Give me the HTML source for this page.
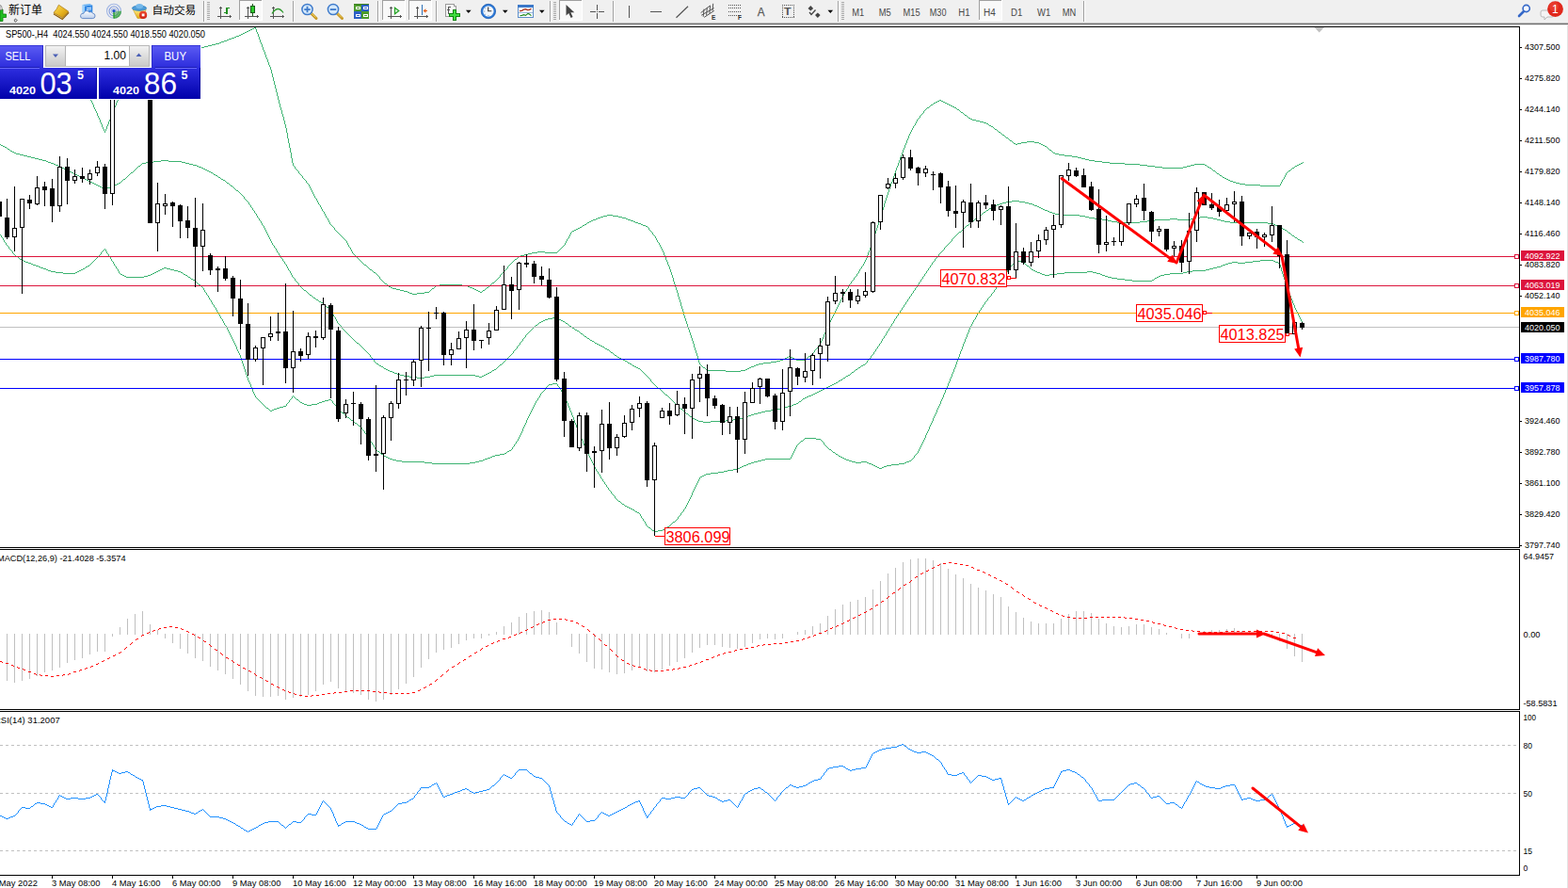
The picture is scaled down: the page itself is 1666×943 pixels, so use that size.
<!DOCTYPE html>
<html><head><meta charset="utf-8"><title>SP500-,H4</title>
<style>
html,body{margin:0;padding:0;background:#fff;}
body{width:1666px;height:943px;overflow:hidden;font-family:"Liberation Sans",sans-serif;}
svg{display:block;position:absolute;left:0;top:0;}
svg text{font-family:"Liberation Sans",sans-serif;}
</style></head><body>
<svg width="1666" height="943" viewBox="0 0 1666 943">
<g shape-rendering="crispEdges">
<rect x="0" y="28" width="1615" height="1" fill="#000"/>
<rect x="1614" y="28" width="1" height="902" fill="#000"/>
<rect x="0" y="581" width="1615" height="1" fill="#000"/>
<rect x="0" y="582" width="1666" height="1" fill="#fff"/>
<rect x="0" y="583" width="1615" height="1" fill="#000"/>
<rect x="0" y="753" width="1615" height="1" fill="#000"/>
<rect x="0" y="754" width="1666" height="1" fill="#fff"/>
<rect x="0" y="755" width="1615" height="1" fill="#000"/>
<rect x="0" y="929" width="1615" height="1" fill="#000"/>
</g>
<clipPath id="cm"><rect x="0" y="29" width="1614" height="552"/></clipPath>
<g clip-path="url(#cm)">
<path d="M270 29h2v1h-2zM268 30h2v1h-2zM266 31h2v1h-2zM264 32h2v1h-2zM262 33h2v1h-2zM260 34h2v1h-2zM258 35h2v1h-2zM256 36h2v1h-2zM254 37h2v1h-2zM251 38h3v1h-3zM249 39h2v1h-2zM246 40h3v1h-3zM243 41h3v1h-3zM241 42h2v1h-2zM238 43h3v1h-3zM235 44h3v1h-3zM233 45h2v1h-2zM229 46h4v1h-4zM225 47h4v1h-4zM221 48h4v1h-4zM217 49h4v1h-4zM214 50h3v1h-3zM998 106h2v1h-2zM996 107h2v1h-2zM1000 107h2v1h-2zM994 108h2v1h-2zM1002 108h2v1h-2zM992 109h2v1h-2zM1004 109h2v1h-2zM1006 110h2v1h-2zM989 111h2v1h-2zM1008 111h2v1h-2zM1010 112h2v1h-2zM1012 113h2v1h-2zM985 114h2v1h-2zM1014 114h2v1h-2zM1017 116h2v1h-2zM1021 119h2v1h-2zM1025 122h2v1h-2zM1029 125h2v1h-2zM1031 126h2v1h-2zM1033 127h4v1h-4zM1037 128h4v1h-4zM1041 129h4v1h-4zM1045 130h3v1h-3zM1048 131h2v1h-2zM1051 133h2v1h-2zM1053 134h2v1h-2zM1057 137h2v1h-2zM1061 140h2v1h-2zM1065 143h2v1h-2zM1069 146h2v1h-2zM1073 149h2v1h-2zM1091 150h8v1h-8zM1085 151h6v1h-6zM1099 151h5v1h-5zM1077 152h2v1h-2zM1081 152h4v1h-4zM1104 152h2v1h-2zM1079 153h2v1h-2zM1106 153h2v1h-2zM1 154h2v1h-2zM1108 154h2v1h-2zM3 155h2v1h-2zM1110 155h2v1h-2zM5 156h2v1h-2zM8 158h2v1h-2zM1115 159h2v1h-2zM11 160h2v1h-2zM13 161h2v1h-2zM15 162h2v1h-2zM1119 162h2v1h-2zM17 163h4v1h-4zM1121 163h4v1h-4zM21 164h4v1h-4zM1125 164h6v1h-6zM25 165h4v1h-4zM1131 165h8v1h-8zM29 166h4v1h-4zM1139 166h6v1h-6zM33 167h4v1h-4zM1145 167h4v1h-4zM37 168h4v1h-4zM1149 168h4v1h-4zM41 169h4v1h-4zM1153 169h4v1h-4zM45 170h4v1h-4zM171 170h8v1h-8zM1157 170h6v1h-6zM49 171h2v1h-2zM163 171h8v1h-8zM179 171h14v1h-14zM1163 171h8v1h-8zM51 172h3v1h-3zM155 172h8v1h-8zM193 172h4v1h-4zM1171 172h8v1h-8zM54 173h3v1h-3zM151 173h4v1h-4zM197 173h4v1h-4zM1179 173h16v1h-16zM1382 173h2v1h-2zM57 174h2v1h-2zM201 174h4v1h-4zM1195 174h16v1h-16zM1269 174h11v1h-11zM1380 174h2v1h-2zM59 175h3v1h-3zM205 175h4v1h-4zM1211 175h8v1h-8zM1265 175h4v1h-4zM1280 175h2v1h-2zM1378 175h2v1h-2zM62 176h2v1h-2zM147 176h2v1h-2zM209 176h2v1h-2zM1219 176h8v1h-8zM1261 176h4v1h-4zM1376 176h2v1h-2zM64 177h2v1h-2zM211 177h3v1h-3zM1227 177h8v1h-8zM1257 177h4v1h-4zM1283 177h2v1h-2zM66 178h2v1h-2zM214 178h2v1h-2zM1235 178h22v1h-22zM1285 178h2v1h-2zM1373 178h2v1h-2zM68 179h2v1h-2zM216 179h2v1h-2zM70 180h2v1h-2zM218 180h2v1h-2zM72 181h2v1h-2zM220 181h2v1h-2zM1289 181h2v1h-2zM1369 181h2v1h-2zM74 182h2v1h-2zM222 182h2v1h-2zM76 183h2v1h-2zM139 183h2v1h-2zM224 183h2v1h-2zM78 184h2v1h-2zM1293 184h2v1h-2zM80 185h2v1h-2zM227 185h2v1h-2zM82 186h2v1h-2zM229 186h2v1h-2zM1296 186h2v1h-2zM84 187h2v1h-2zM86 188h2v1h-2zM232 188h2v1h-2zM1299 188h2v1h-2zM88 189h2v1h-2zM1301 189h2v1h-2zM90 190h2v1h-2zM131 190h2v1h-2zM235 190h2v1h-2zM1303 190h2v1h-2zM92 191h2v1h-2zM237 191h2v1h-2zM1305 191h2v1h-2zM94 192h2v1h-2zM1307 192h3v1h-3zM96 193h2v1h-2zM1310 193h3v1h-3zM98 194h2v1h-2zM126 194h2v1h-2zM241 194h2v1h-2zM1313 194h4v1h-4zM100 195h2v1h-2zM124 195h2v1h-2zM1317 195h6v1h-6zM102 196h2v1h-2zM122 196h2v1h-2zM1323 196h16v1h-16zM104 197h2v1h-2zM120 197h2v1h-2zM245 197h2v1h-2zM1339 197h21v1h-21zM106 198h2v1h-2zM117 198h3v1h-3zM108 199h2v1h-2zM113 199h4v1h-4zM110 200h3v1h-3zM251 202h2v1h-2zM1075 213h8v1h-8zM1069 214h6v1h-6zM1083 214h6v1h-6zM1065 215h4v1h-4zM1089 215h4v1h-4zM1062 216h3v1h-3zM1093 216h4v1h-4zM1059 217h3v1h-3zM1097 217h2v1h-2zM1057 218h2v1h-2zM1099 218h3v1h-3zM1055 219h2v1h-2zM1102 219h2v1h-2zM1053 220h2v1h-2zM1104 220h2v1h-2zM1051 221h2v1h-2zM1106 221h2v1h-2zM1108 222h2v1h-2zM1048 223h2v1h-2zM1110 223h3v1h-3zM1113 224h2v1h-2zM1045 225h2v1h-2zM1115 225h3v1h-3zM1118 226h3v1h-3zM1121 227h4v1h-4zM645 228h6v1h-6zM1041 228h2v1h-2zM1125 228h22v1h-22zM641 229h4v1h-4zM651 229h6v1h-6zM1147 229h6v1h-6zM638 230h3v1h-3zM657 230h4v1h-4zM1153 230h4v1h-4zM1275 230h8v1h-8zM635 231h3v1h-3zM661 231h4v1h-4zM1037 231h2v1h-2zM1157 231h6v1h-6zM1269 231h6v1h-6zM1283 231h6v1h-6zM633 232h2v1h-2zM665 232h2v1h-2zM1163 232h8v1h-8zM1243 232h8v1h-8zM1265 232h4v1h-4zM1289 232h4v1h-4zM630 233h3v1h-3zM667 233h3v1h-3zM1171 233h6v1h-6zM1227 233h16v1h-16zM1251 233h14v1h-14zM1293 233h4v1h-4zM628 234h2v1h-2zM670 234h3v1h-3zM1033 234h2v1h-2zM1177 234h4v1h-4zM1219 234h8v1h-8zM1297 234h4v1h-4zM626 235h2v1h-2zM673 235h2v1h-2zM1181 235h6v1h-6zM1211 235h8v1h-8zM1301 235h6v1h-6zM624 236h2v1h-2zM675 236h3v1h-3zM1187 236h24v1h-24zM1307 236h40v1h-40zM678 237h3v1h-3zM1347 237h6v1h-6zM621 238h2v1h-2zM681 238h2v1h-2zM1353 238h2v1h-2zM619 239h2v1h-2zM683 239h3v1h-3zM1027 239h2v1h-2zM1355 239h3v1h-3zM686 240h2v1h-2zM1358 240h2v1h-2zM616 241h2v1h-2zM1360 241h2v1h-2zM614 242h2v1h-2zM612 243h2v1h-2zM1363 243h2v1h-2zM610 244h2v1h-2zM1365 244h2v1h-2zM608 245h2v1h-2zM1019 246h2v1h-2zM1369 247h2v1h-2zM1373 250h2v1h-2zM1376 252h2v1h-2zM1379 254h2v1h-2zM1381 255h2v1h-2zM571 267h8v1h-8zM565 268h6v1h-6zM579 268h13v1h-13zM561 269h4v1h-4zM557 270h4v1h-4zM553 271h4v1h-4zM17 272h2v1h-2zM551 272h2v1h-2zM21 275h2v1h-2zM547 275h2v1h-2zM23 276h2v1h-2zM1079 276h2v1h-2zM1339 276h14v1h-14zM25 277h2v1h-2zM1081 277h4v1h-4zM1331 277h8v1h-8zM1353 277h2v1h-2zM27 278h3v1h-3zM1085 278h3v1h-3zM1309 278h6v1h-6zM1323 278h8v1h-8zM1355 278h3v1h-3zM30 279h3v1h-3zM1305 279h4v1h-4zM1315 279h8v1h-8zM1358 279h2v1h-2zM33 280h2v1h-2zM1302 280h3v1h-3zM35 281h3v1h-3zM387 281h2v1h-2zM1299 281h3v1h-3zM38 282h3v1h-3zM93 282h2v1h-2zM1091 282h2v1h-2zM1297 282h2v1h-2zM41 283h2v1h-2zM91 283h2v1h-2zM1293 283h4v1h-4zM43 284h3v1h-3zM174 284h3v1h-3zM1289 284h4v1h-4zM46 285h3v1h-3zM88 285h2v1h-2zM172 285h2v1h-2zM177 285h4v1h-4zM1285 285h4v1h-4zM49 286h2v1h-2zM86 286h2v1h-2zM170 286h2v1h-2zM181 286h4v1h-4zM393 286h2v1h-2zM1096 286h2v1h-2zM1281 286h4v1h-4zM51 287h3v1h-3zM84 287h2v1h-2zM168 287h2v1h-2zM185 287h4v1h-4zM1098 287h2v1h-2zM1267 287h14v1h-14zM54 288h5v1h-5zM82 288h2v1h-2zM166 288h2v1h-2zM189 288h3v1h-3zM1100 288h2v1h-2zM1155 288h6v1h-6zM1261 288h6v1h-6zM59 289h8v1h-8zM80 289h2v1h-2zM164 289h2v1h-2zM192 289h2v1h-2zM397 289h2v1h-2zM1102 289h3v1h-3zM1131 289h24v1h-24zM1161 289h4v1h-4zM1257 289h4v1h-4zM67 290h13v1h-13zM162 290h2v1h-2zM1105 290h2v1h-2zM1123 290h8v1h-8zM1165 290h4v1h-4zM1243 290h14v1h-14zM128 291h2v1h-2zM160 291h2v1h-2zM195 291h2v1h-2zM1107 291h3v1h-3zM1115 291h8v1h-8zM1169 291h2v1h-2zM1237 291h6v1h-6zM130 292h2v1h-2zM157 292h3v1h-3zM197 292h2v1h-2zM1110 292h5v1h-5zM1171 292h3v1h-3zM1233 292h4v1h-4zM132 293h2v1h-2zM153 293h4v1h-4zM1174 293h3v1h-3zM1231 293h2v1h-2zM134 294h19v1h-19zM200 294h2v1h-2zM1177 294h4v1h-4zM1229 294h2v1h-2zM1181 295h6v1h-6zM1227 295h2v1h-2zM203 296h2v1h-2zM1187 296h8v1h-8zM205 297h2v1h-2zM1195 297h8v1h-8zM1224 297h2v1h-2zM1203 298h21v1h-21zM523 300h2v1h-2zM409 301h2v1h-2zM211 302h2v1h-2zM467 302h24v1h-24zM463 303h4v1h-4zM491 303h6v1h-6zM413 304h2v1h-2zM497 304h2v1h-2zM415 305h2v1h-2zM499 305h3v1h-3zM517 305h2v1h-2zM417 306h4v1h-4zM459 306h2v1h-2zM502 306h2v1h-2zM421 307h4v1h-4zM504 307h2v1h-2zM323 308h2v1h-2zM425 308h4v1h-4zM506 308h2v1h-2zM513 308h2v1h-2zM429 309h4v1h-4zM508 309h2v1h-2zM433 310h2v1h-2zM451 310h5v1h-5zM510 310h2v1h-2zM435 311h3v1h-3zM443 311h8v1h-8zM438 312h5v1h-5zM329 313h2v1h-2zM333 316h2v1h-2zM336 318h2v1h-2zM339 320h2v1h-2zM341 321h2v1h-2zM347 326h2v1h-2zM587 337h5v1h-5zM582 338h5v1h-5zM592 338h2v1h-2zM579 339h3v1h-3zM594 339h2v1h-2zM577 340h2v1h-2zM596 340h2v1h-2zM575 341h2v1h-2zM598 341h2v1h-2zM573 342h2v1h-2zM601 343h2v1h-2zM569 345h2v1h-2zM605 346h2v1h-2zM608 348h2v1h-2zM611 350h2v1h-2zM613 351h2v1h-2zM617 354h2v1h-2zM621 357h2v1h-2zM624 359h2v1h-2zM627 361h2v1h-2zM629 362h2v1h-2zM379 364h2v1h-2zM632 364h2v1h-2zM634 365h2v1h-2zM636 366h2v1h-2zM638 367h2v1h-2zM640 368h2v1h-2zM643 370h2v1h-2zM645 371h2v1h-2zM649 374h2v1h-2zM653 377h2v1h-2zM838 378h2v1h-2zM859 378h2v1h-2zM656 379h2v1h-2zM836 379h2v1h-2zM840 379h2v1h-2zM658 380h2v1h-2zM834 380h2v1h-2zM842 380h2v1h-2zM660 381h2v1h-2zM832 381h2v1h-2zM844 381h2v1h-2zM662 382h2v1h-2zM829 382h3v1h-3zM846 382h10v1h-10zM664 383h2v1h-2zM825 383h4v1h-4zM819 384h6v1h-6zM667 385h2v1h-2zM811 385h8v1h-8zM400 386h2v1h-2zM669 386h2v1h-2zM806 386h5v1h-5zM531 387h2v1h-2zM803 387h3v1h-3zM917 387h2v1h-2zM403 388h2v1h-2zM672 388h2v1h-2zM801 388h2v1h-2zM915 388h2v1h-2zM405 389h2v1h-2zM674 389h2v1h-2zM798 389h3v1h-3zM676 390h2v1h-2zM747 390h2v1h-2zM796 390h2v1h-2zM912 390h2v1h-2zM408 391h2v1h-2zM678 391h2v1h-2zM794 391h2v1h-2zM410 392h2v1h-2zM525 392h2v1h-2zM792 392h2v1h-2zM909 392h2v1h-2zM412 393h2v1h-2zM523 393h2v1h-2zM751 393h20v1h-20zM787 393h5v1h-5zM414 394h3v1h-3zM771 394h16v1h-16zM417 395h2v1h-2zM520 395h2v1h-2zM905 395h2v1h-2zM419 396h3v1h-3zM518 396h2v1h-2zM422 397h3v1h-3zM516 397h2v1h-2zM425 398h4v1h-4zM461 398h44v1h-44zM514 398h2v1h-2zM901 398h2v1h-2zM429 399h6v1h-6zM457 399h4v1h-4zM505 399h4v1h-4zM512 399h2v1h-2zM899 399h2v1h-2zM435 400h8v1h-8zM451 400h6v1h-6zM509 400h3v1h-3zM443 401h8v1h-8zM896 401h2v1h-2zM893 403h2v1h-2zM891 404h2v1h-2zM888 406h2v1h-2zM587 407h5v1h-5zM886 407h2v1h-2zM583 408h4v1h-4zM884 408h2v1h-2zM882 409h2v1h-2zM880 410h2v1h-2zM878 411h2v1h-2zM699 412h2v1h-2zM876 412h2v1h-2zM874 413h2v1h-2zM872 414h2v1h-2zM870 415h2v1h-2zM868 416h2v1h-2zM866 417h2v1h-2zM864 418h2v1h-2zM707 419h2v1h-2zM862 419h2v1h-2zM859 420h3v1h-3zM857 421h2v1h-2zM855 422h2v1h-2zM853 423h2v1h-2zM315 424h2v1h-2zM349 424h3v1h-3zM345 425h4v1h-4zM342 426h3v1h-3zM849 426h2v1h-2zM319 427h2v1h-2zM339 427h3v1h-3zM321 428h2v1h-2zM337 428h2v1h-2zM846 428h2v1h-2zM323 429h3v1h-3zM331 429h6v1h-6zM843 429h3v1h-3zM326 430h5v1h-5zM841 430h2v1h-2zM301 431h3v1h-3zM837 431h4v1h-4zM297 432h4v1h-4zM833 432h4v1h-4zM283 433h2v1h-2zM294 433h3v1h-3zM829 433h4v1h-4zM291 434h3v1h-3zM723 434h2v1h-2zM825 434h4v1h-4zM289 435h2v1h-2zM819 435h6v1h-6zM287 436h2v1h-2zM813 436h6v1h-6zM809 437h4v1h-4zM363 438h2v1h-2zM805 438h4v1h-4zM729 439h2v1h-2zM801 439h4v1h-4zM798 440h3v1h-3zM795 441h3v1h-3zM733 442h2v1h-2zM793 442h2v1h-2zM369 443h2v1h-2zM789 443h4v1h-4zM736 444h2v1h-2zM785 444h4v1h-4zM738 445h2v1h-2zM779 445h6v1h-6zM373 446h2v1h-2zM740 446h2v1h-2zM771 446h8v1h-8zM742 447h5v1h-5zM755 447h16v1h-16zM747 448h8v1h-8zM377 449h2v1h-2zM381 452h2v1h-2zM855 465h12v1h-12zM867 466h5v1h-5zM851 468h2v1h-2zM881 477h2v1h-2zM541 478h2v1h-2zM401 479h2v1h-2zM539 479h2v1h-2zM885 480h2v1h-2zM536 481h2v1h-2zM405 482h2v1h-2zM531 482h5v1h-5zM888 482h2v1h-2zM526 483h5v1h-5zM408 484h2v1h-2zM523 484h3v1h-3zM891 484h2v1h-2zM410 485h2v1h-2zM521 485h2v1h-2zM893 485h2v1h-2zM412 486h2v1h-2zM518 486h3v1h-3zM895 486h2v1h-2zM414 487h3v1h-3zM515 487h3v1h-3zM813 487h27v1h-27zM897 487h2v1h-2zM417 488h4v1h-4zM513 488h2v1h-2zM809 488h4v1h-4zM899 488h3v1h-3zM421 489h6v1h-6zM509 489h4v1h-4zM805 489h4v1h-4zM902 489h3v1h-3zM966 489h2v1h-2zM427 490h24v1h-24zM505 490h4v1h-4zM801 490h4v1h-4zM905 490h4v1h-4zM915 490h6v1h-6zM963 490h3v1h-3zM451 491h8v1h-8zM499 491h6v1h-6zM798 491h3v1h-3zM909 491h6v1h-6zM921 491h2v1h-2zM961 491h2v1h-2zM459 492h40v1h-40zM795 492h3v1h-3zM923 492h3v1h-3zM955 492h6v1h-6zM793 493h2v1h-2zM926 493h2v1h-2zM947 493h8v1h-8zM790 494h3v1h-3zM928 494h2v1h-2zM942 494h5v1h-5zM788 495h2v1h-2zM930 495h2v1h-2zM939 495h3v1h-3zM786 496h2v1h-2zM932 496h2v1h-2zM937 496h2v1h-2zM784 497h2v1h-2zM934 497h3v1h-3zM779 498h5v1h-5zM773 499h6v1h-6zM769 500h4v1h-4zM763 501h6v1h-6zM755 502h8v1h-8zM750 503h5v1h-5zM748 504h2v1h-2zM746 505h2v1h-2zM744 506h2v1h-2zM657 532h2v1h-2zM661 535h2v1h-2zM664 537h2v1h-2zM666 538h2v1h-2zM668 539h2v1h-2zM670 540h2v1h-2zM672 541h2v1h-2zM675 543h2v1h-2zM677 544h2v1h-2zM715 554h2v1h-2zM709 559h2v1h-2zM689 560h2v1h-2zM707 560h2v1h-2zM704 562h2v1h-2zM693 563h2v1h-2zM699 563h5v1h-5zM695 564h4v1h-4zM0 153h1v1h-1zM0 249h1v1h-1zM1 250h1v2h-1zM2 252h1v1h-1zM3 253h1v2h-1zM4 255h1v2h-1zM5 257h1v1h-1zM6 258h1v2h-1zM7 157h1v1h-1zM7 260h1v1h-1zM8 261h1v1h-1zM9 262h1v2h-1zM10 159h1v1h-1zM10 264h1v1h-1zM11 265h1v1h-1zM12 266h1v1h-1zM13 267h1v2h-1zM14 269h1v1h-1zM15 270h1v1h-1zM16 271h1v1h-1zM19 273h1v1h-1zM20 274h1v1h-1zM90 92h1v2h-1zM90 284h1v1h-1zM91 94h1v2h-1zM92 96h1v2h-1zM93 98h1v2h-1zM94 100h1v2h-1zM95 102h1v3h-1zM95 281h1v1h-1zM96 105h1v2h-1zM96 280h1v1h-1zM97 107h1v2h-1zM97 279h1v1h-1zM98 109h1v2h-1zM98 278h1v1h-1zM99 111h1v3h-1zM99 277h1v1h-1zM100 114h1v2h-1zM100 276h1v1h-1zM101 116h1v2h-1zM101 275h1v1h-1zM102 118h1v2h-1zM102 274h1v1h-1zM103 120h1v3h-1zM103 273h1v1h-1zM104 123h1v2h-1zM104 272h1v1h-1zM105 125h1v2h-1zM105 271h1v1h-1zM106 127h1v3h-1zM106 270h1v1h-1zM107 130h1v2h-1zM107 268h1v2h-1zM108 132h1v3h-1zM108 267h1v1h-1zM109 135h1v2h-1zM109 266h1v1h-1zM110 137h1v2h-1zM110 265h1v1h-1zM111 139h1v2h-1zM111 264h1v1h-1zM112 137h1v2h-1zM112 265h1v2h-1zM113 134h1v3h-1zM113 267h1v2h-1zM114 132h1v2h-1zM114 269h1v1h-1zM115 129h1v3h-1zM115 270h1v2h-1zM116 127h1v2h-1zM116 272h1v1h-1zM117 124h1v3h-1zM117 273h1v2h-1zM118 122h1v2h-1zM118 275h1v2h-1zM119 119h1v3h-1zM119 277h1v1h-1zM120 117h1v2h-1zM120 278h1v2h-1zM121 114h1v3h-1zM121 280h1v2h-1zM122 112h1v2h-1zM122 282h1v1h-1zM123 109h1v3h-1zM123 283h1v2h-1zM124 107h1v2h-1zM124 285h1v1h-1zM125 104h1v3h-1zM125 286h1v2h-1zM126 102h1v2h-1zM126 288h1v2h-1zM127 100h1v2h-1zM127 290h1v1h-1zM128 98h1v2h-1zM128 193h1v1h-1zM129 192h1v1h-1zM130 191h1v1h-1zM133 189h1v1h-1zM134 188h1v1h-1zM135 187h1v1h-1zM136 186h1v1h-1zM137 185h1v1h-1zM138 184h1v1h-1zM141 182h1v1h-1zM142 181h1v1h-1zM143 180h1v1h-1zM144 179h1v1h-1zM145 178h1v1h-1zM146 177h1v1h-1zM149 175h1v1h-1zM150 174h1v1h-1zM194 290h1v1h-1zM199 293h1v1h-1zM202 295h1v1h-1zM207 298h1v1h-1zM208 299h1v1h-1zM209 300h1v1h-1zM210 301h1v1h-1zM213 51h1v1h-1zM213 303h1v1h-1zM214 304h1v1h-1zM215 305h1v1h-1zM216 306h1v2h-1zM217 308h1v2h-1zM218 310h1v1h-1zM219 311h1v2h-1zM220 313h1v1h-1zM221 314h1v2h-1zM222 316h1v2h-1zM223 318h1v1h-1zM224 319h1v2h-1zM225 321h1v2h-1zM226 184h1v1h-1zM226 323h1v1h-1zM227 324h1v2h-1zM228 326h1v1h-1zM229 327h1v2h-1zM230 329h1v2h-1zM231 187h1v1h-1zM231 331h1v1h-1zM232 332h1v2h-1zM233 334h1v2h-1zM234 189h1v1h-1zM234 336h1v2h-1zM235 338h1v1h-1zM236 339h1v2h-1zM237 341h1v2h-1zM238 343h1v2h-1zM239 192h1v1h-1zM239 345h1v1h-1zM240 193h1v1h-1zM240 346h1v2h-1zM241 348h1v2h-1zM242 350h1v2h-1zM243 195h1v1h-1zM243 352h1v2h-1zM244 196h1v1h-1zM244 354h1v2h-1zM245 356h1v2h-1zM246 358h1v2h-1zM247 198h1v1h-1zM247 360h1v2h-1zM248 199h1v1h-1zM248 362h1v2h-1zM249 200h1v1h-1zM249 364h1v2h-1zM250 201h1v1h-1zM250 366h1v2h-1zM251 368h1v3h-1zM252 371h1v2h-1zM253 203h1v1h-1zM253 373h1v2h-1zM254 204h1v1h-1zM254 375h1v2h-1zM255 205h1v1h-1zM255 377h1v3h-1zM256 206h1v1h-1zM256 380h1v3h-1zM257 207h1v1h-1zM257 383h1v3h-1zM258 208h1v1h-1zM258 386h1v3h-1zM259 209h1v2h-1zM259 389h1v3h-1zM260 211h1v1h-1zM260 392h1v3h-1zM261 212h1v1h-1zM261 395h1v3h-1zM262 213h1v1h-1zM262 398h1v3h-1zM263 214h1v1h-1zM263 401h1v3h-1zM264 215h1v2h-1zM264 404h1v2h-1zM265 217h1v1h-1zM265 406h1v2h-1zM266 218h1v2h-1zM266 408h1v3h-1zM267 220h1v1h-1zM267 411h1v2h-1zM268 221h1v2h-1zM268 413h1v3h-1zM269 223h1v1h-1zM269 416h1v2h-1zM270 224h1v2h-1zM270 418h1v2h-1zM271 30h1v1h-1zM271 226h1v1h-1zM271 420h1v2h-1zM272 31h1v3h-1zM272 227h1v2h-1zM272 422h1v1h-1zM273 34h1v2h-1zM273 229h1v2h-1zM273 423h1v1h-1zM274 36h1v3h-1zM274 231h1v1h-1zM274 424h1v1h-1zM275 39h1v3h-1zM275 232h1v2h-1zM275 425h1v1h-1zM276 42h1v3h-1zM276 234h1v1h-1zM276 426h1v1h-1zM277 45h1v2h-1zM277 235h1v2h-1zM277 427h1v1h-1zM278 47h1v3h-1zM278 237h1v2h-1zM278 428h1v1h-1zM279 50h1v3h-1zM279 239h1v1h-1zM279 429h1v1h-1zM280 53h1v2h-1zM280 240h1v2h-1zM280 430h1v1h-1zM281 55h1v3h-1zM281 242h1v2h-1zM281 431h1v1h-1zM282 58h1v3h-1zM282 244h1v2h-1zM282 432h1v1h-1zM283 61h1v2h-1zM283 246h1v2h-1zM284 63h1v3h-1zM284 248h1v2h-1zM285 66h1v3h-1zM285 250h1v2h-1zM285 434h1v1h-1zM286 69h1v2h-1zM286 252h1v2h-1zM286 435h1v1h-1zM287 71h1v3h-1zM287 254h1v2h-1zM288 74h1v4h-1zM288 256h1v2h-1zM289 78h1v4h-1zM289 258h1v2h-1zM290 82h1v4h-1zM290 260h1v1h-1zM291 86h1v4h-1zM291 261h1v2h-1zM292 90h1v4h-1zM292 263h1v1h-1zM293 94h1v4h-1zM293 264h1v2h-1zM294 98h1v4h-1zM294 266h1v2h-1zM295 102h1v4h-1zM295 268h1v1h-1zM296 106h1v4h-1zM296 269h1v2h-1zM297 110h1v4h-1zM297 271h1v1h-1zM298 114h1v3h-1zM298 272h1v2h-1zM299 117h1v4h-1zM299 274h1v1h-1zM300 121h1v3h-1zM300 275h1v2h-1zM301 124h1v4h-1zM301 277h1v1h-1zM302 128h1v4h-1zM302 278h1v2h-1zM303 132h1v4h-1zM303 280h1v1h-1zM304 136h1v5h-1zM304 281h1v2h-1zM304 429h1v2h-1zM305 141h1v6h-1zM305 283h1v2h-1zM305 428h1v1h-1zM306 147h1v5h-1zM306 285h1v2h-1zM306 427h1v1h-1zM307 152h1v5h-1zM307 287h1v1h-1zM307 425h1v2h-1zM308 157h1v5h-1zM308 288h1v2h-1zM308 424h1v1h-1zM309 162h1v6h-1zM309 290h1v2h-1zM309 423h1v1h-1zM310 168h1v5h-1zM310 292h1v2h-1zM310 421h1v2h-1zM311 173h1v3h-1zM311 294h1v1h-1zM311 420h1v1h-1zM312 176h1v1h-1zM312 295h1v1h-1zM312 421h1v1h-1zM313 177h1v2h-1zM313 296h1v2h-1zM313 422h1v1h-1zM314 179h1v1h-1zM314 298h1v1h-1zM314 423h1v1h-1zM315 180h1v1h-1zM315 299h1v1h-1zM316 181h1v1h-1zM316 300h1v1h-1zM317 182h1v2h-1zM317 301h1v2h-1zM317 425h1v1h-1zM318 184h1v1h-1zM318 303h1v1h-1zM318 426h1v1h-1zM319 185h1v1h-1zM319 304h1v1h-1zM320 186h1v1h-1zM320 305h1v1h-1zM321 187h1v2h-1zM321 306h1v1h-1zM322 189h1v1h-1zM322 307h1v1h-1zM323 190h1v1h-1zM324 191h1v1h-1zM325 192h1v2h-1zM325 309h1v1h-1zM326 194h1v1h-1zM326 310h1v1h-1zM327 195h1v1h-1zM327 311h1v1h-1zM328 196h1v2h-1zM328 312h1v1h-1zM329 198h1v2h-1zM330 200h1v2h-1zM331 202h1v2h-1zM331 314h1v1h-1zM332 204h1v2h-1zM332 315h1v1h-1zM333 206h1v2h-1zM334 208h1v2h-1zM335 210h1v1h-1zM335 317h1v1h-1zM336 211h1v2h-1zM337 213h1v2h-1zM338 215h1v2h-1zM338 319h1v1h-1zM339 217h1v1h-1zM340 218h1v2h-1zM341 220h1v2h-1zM342 222h1v2h-1zM343 224h1v1h-1zM343 322h1v1h-1zM344 225h1v2h-1zM344 323h1v1h-1zM345 227h1v2h-1zM345 324h1v1h-1zM346 229h1v2h-1zM346 325h1v1h-1zM347 231h1v1h-1zM348 232h1v2h-1zM349 234h1v2h-1zM349 327h1v1h-1zM350 236h1v2h-1zM350 328h1v1h-1zM351 238h1v1h-1zM351 329h1v1h-1zM352 239h1v1h-1zM352 330h1v2h-1zM352 425h1v1h-1zM353 240h1v1h-1zM353 332h1v2h-1zM353 426h1v2h-1zM354 241h1v1h-1zM354 334h1v2h-1zM354 428h1v1h-1zM355 242h1v2h-1zM355 336h1v1h-1zM355 429h1v1h-1zM356 244h1v1h-1zM356 337h1v2h-1zM356 430h1v1h-1zM357 245h1v1h-1zM357 339h1v2h-1zM357 431h1v2h-1zM358 246h1v1h-1zM358 341h1v2h-1zM358 433h1v1h-1zM359 247h1v1h-1zM359 343h1v1h-1zM359 434h1v1h-1zM360 248h1v1h-1zM360 344h1v1h-1zM360 435h1v1h-1zM361 249h1v1h-1zM361 345h1v1h-1zM361 436h1v1h-1zM362 250h1v1h-1zM362 346h1v1h-1zM362 437h1v1h-1zM363 251h1v1h-1zM363 347h1v2h-1zM364 252h1v1h-1zM364 349h1v1h-1zM365 253h1v1h-1zM365 350h1v1h-1zM365 439h1v1h-1zM366 254h1v1h-1zM366 351h1v1h-1zM366 440h1v1h-1zM367 255h1v1h-1zM367 352h1v1h-1zM367 441h1v1h-1zM368 256h1v2h-1zM368 353h1v1h-1zM368 442h1v1h-1zM369 258h1v2h-1zM369 354h1v1h-1zM370 260h1v2h-1zM370 355h1v1h-1zM371 262h1v1h-1zM371 356h1v1h-1zM371 444h1v1h-1zM372 263h1v2h-1zM372 357h1v1h-1zM372 445h1v1h-1zM373 265h1v2h-1zM373 358h1v1h-1zM374 267h1v2h-1zM374 359h1v1h-1zM375 269h1v1h-1zM375 360h1v1h-1zM375 447h1v1h-1zM376 270h1v1h-1zM376 361h1v1h-1zM376 448h1v1h-1zM377 271h1v1h-1zM377 362h1v1h-1zM378 272h1v1h-1zM378 363h1v1h-1zM379 273h1v1h-1zM379 450h1v1h-1zM380 274h1v1h-1zM380 451h1v1h-1zM381 275h1v1h-1zM381 365h1v1h-1zM382 276h1v1h-1zM382 366h1v1h-1zM383 277h1v1h-1zM383 367h1v1h-1zM383 453h1v1h-1zM384 278h1v1h-1zM384 368h1v1h-1zM384 454h1v2h-1zM385 279h1v1h-1zM385 369h1v1h-1zM385 456h1v1h-1zM386 280h1v1h-1zM386 370h1v1h-1zM386 457h1v1h-1zM387 371h1v1h-1zM387 458h1v2h-1zM388 372h1v1h-1zM388 460h1v1h-1zM389 282h1v1h-1zM389 373h1v1h-1zM389 461h1v1h-1zM390 283h1v1h-1zM390 374h1v1h-1zM390 462h1v2h-1zM391 284h1v1h-1zM391 375h1v1h-1zM391 464h1v1h-1zM392 285h1v1h-1zM392 376h1v1h-1zM392 465h1v2h-1zM393 377h1v2h-1zM393 467h1v2h-1zM394 379h1v1h-1zM394 469h1v1h-1zM395 287h1v1h-1zM395 380h1v1h-1zM395 470h1v2h-1zM396 288h1v1h-1zM396 381h1v1h-1zM396 472h1v1h-1zM397 382h1v2h-1zM397 473h1v2h-1zM398 384h1v1h-1zM398 475h1v2h-1zM399 290h1v1h-1zM399 385h1v1h-1zM399 477h1v1h-1zM400 291h1v1h-1zM400 478h1v1h-1zM401 292h1v1h-1zM402 293h1v1h-1zM402 387h1v1h-1zM403 294h1v2h-1zM403 480h1v1h-1zM404 296h1v1h-1zM404 481h1v1h-1zM405 297h1v1h-1zM406 298h1v1h-1zM407 299h1v1h-1zM407 390h1v1h-1zM407 483h1v1h-1zM408 300h1v1h-1zM411 302h1v1h-1zM412 303h1v1h-1zM456 309h1v1h-1zM457 308h1v1h-1zM458 307h1v1h-1zM461 305h1v1h-1zM462 304h1v1h-1zM512 309h1v1h-1zM515 307h1v1h-1zM516 306h1v1h-1zM519 304h1v1h-1zM520 303h1v1h-1zM521 302h1v1h-1zM522 301h1v1h-1zM522 394h1v1h-1zM525 299h1v1h-1zM526 298h1v1h-1zM527 297h1v1h-1zM527 391h1v1h-1zM528 296h1v1h-1zM528 390h1v1h-1zM529 295h1v1h-1zM529 389h1v1h-1zM530 294h1v1h-1zM530 388h1v1h-1zM531 292h1v2h-1zM532 291h1v1h-1zM533 290h1v1h-1zM533 386h1v1h-1zM534 289h1v1h-1zM534 385h1v1h-1zM535 288h1v1h-1zM535 384h1v1h-1zM536 287h1v1h-1zM536 383h1v1h-1zM537 286h1v1h-1zM537 382h1v1h-1zM538 285h1v1h-1zM538 381h1v1h-1zM538 480h1v1h-1zM539 283h1v2h-1zM539 380h1v1h-1zM540 282h1v1h-1zM540 379h1v1h-1zM541 281h1v1h-1zM541 378h1v1h-1zM542 280h1v1h-1zM542 377h1v1h-1zM543 279h1v1h-1zM543 376h1v1h-1zM543 477h1v1h-1zM544 278h1v1h-1zM544 375h1v1h-1zM544 475h1v2h-1zM545 277h1v1h-1zM545 373h1v2h-1zM545 474h1v1h-1zM546 276h1v1h-1zM546 372h1v1h-1zM546 472h1v2h-1zM547 371h1v1h-1zM547 471h1v1h-1zM548 370h1v1h-1zM548 469h1v2h-1zM549 274h1v1h-1zM549 368h1v2h-1zM549 468h1v1h-1zM550 273h1v1h-1zM550 367h1v1h-1zM550 466h1v2h-1zM551 366h1v1h-1zM551 464h1v2h-1zM552 364h1v2h-1zM552 462h1v2h-1zM553 363h1v1h-1zM553 460h1v2h-1zM554 362h1v1h-1zM554 458h1v2h-1zM555 360h1v2h-1zM555 455h1v3h-1zM556 359h1v1h-1zM556 453h1v2h-1zM557 358h1v1h-1zM557 451h1v2h-1zM558 356h1v2h-1zM558 449h1v2h-1zM559 355h1v1h-1zM559 446h1v3h-1zM560 354h1v1h-1zM560 444h1v2h-1zM561 353h1v1h-1zM561 442h1v2h-1zM562 352h1v1h-1zM562 440h1v2h-1zM563 351h1v1h-1zM563 438h1v2h-1zM564 350h1v1h-1zM564 436h1v2h-1zM565 349h1v1h-1zM565 434h1v2h-1zM566 348h1v1h-1zM566 432h1v2h-1zM567 347h1v1h-1zM567 430h1v2h-1zM568 346h1v1h-1zM568 428h1v2h-1zM569 426h1v2h-1zM570 425h1v1h-1zM571 344h1v1h-1zM571 423h1v2h-1zM572 343h1v1h-1zM572 422h1v1h-1zM573 420h1v2h-1zM574 418h1v2h-1zM575 417h1v1h-1zM576 416h1v1h-1zM577 415h1v1h-1zM578 414h1v1h-1zM579 412h1v2h-1zM580 411h1v1h-1zM581 410h1v1h-1zM582 409h1v1h-1zM592 267h1v1h-1zM592 408h1v2h-1zM593 266h1v1h-1zM593 410h1v1h-1zM594 265h1v1h-1zM594 411h1v2h-1zM595 264h1v1h-1zM595 413h1v1h-1zM596 263h1v1h-1zM596 414h1v2h-1zM597 262h1v1h-1zM597 416h1v1h-1zM598 261h1v1h-1zM598 417h1v2h-1zM599 260h1v1h-1zM599 419h1v2h-1zM600 258h1v2h-1zM600 342h1v1h-1zM600 421h1v2h-1zM601 256h1v2h-1zM601 423h1v3h-1zM602 254h1v2h-1zM602 426h1v2h-1zM603 253h1v1h-1zM603 344h1v1h-1zM603 428h1v3h-1zM604 251h1v2h-1zM604 345h1v1h-1zM604 431h1v2h-1zM605 249h1v2h-1zM605 433h1v3h-1zM606 247h1v2h-1zM606 436h1v2h-1zM607 246h1v1h-1zM607 347h1v1h-1zM607 438h1v3h-1zM608 441h1v2h-1zM609 443h1v3h-1zM610 349h1v1h-1zM610 446h1v3h-1zM611 449h1v2h-1zM612 451h1v3h-1zM613 454h1v3h-1zM614 457h1v2h-1zM615 352h1v1h-1zM615 459h1v3h-1zM616 353h1v1h-1zM616 462h1v2h-1zM617 464h1v2h-1zM618 240h1v1h-1zM618 466h1v2h-1zM619 355h1v1h-1zM619 468h1v3h-1zM620 356h1v1h-1zM620 471h1v2h-1zM621 473h1v2h-1zM622 475h1v2h-1zM623 237h1v1h-1zM623 358h1v1h-1zM623 477h1v3h-1zM624 480h1v2h-1zM625 482h1v2h-1zM626 360h1v1h-1zM626 484h1v2h-1zM627 486h1v2h-1zM628 488h1v2h-1zM629 490h1v2h-1zM630 492h1v2h-1zM631 363h1v1h-1zM631 494h1v2h-1zM632 496h1v2h-1zM633 498h1v2h-1zM634 500h1v1h-1zM635 501h1v2h-1zM636 503h1v1h-1zM637 504h1v2h-1zM638 506h1v2h-1zM639 508h1v1h-1zM640 509h1v2h-1zM641 511h1v1h-1zM642 369h1v1h-1zM642 512h1v2h-1zM643 514h1v1h-1zM644 515h1v2h-1zM645 517h1v1h-1zM646 518h1v2h-1zM647 372h1v1h-1zM647 520h1v1h-1zM648 373h1v1h-1zM648 521h1v1h-1zM649 522h1v2h-1zM650 524h1v1h-1zM651 375h1v1h-1zM651 525h1v1h-1zM652 376h1v1h-1zM652 526h1v1h-1zM653 527h1v2h-1zM654 529h1v1h-1zM655 378h1v1h-1zM655 530h1v1h-1zM656 531h1v1h-1zM659 533h1v1h-1zM660 534h1v1h-1zM663 536h1v1h-1zM666 384h1v1h-1zM671 387h1v1h-1zM674 542h1v1h-1zM679 545h1v1h-1zM680 392h1v1h-1zM680 546h1v2h-1zM681 393h1v1h-1zM681 548h1v2h-1zM682 394h1v1h-1zM682 550h1v1h-1zM683 395h1v1h-1zM683 551h1v2h-1zM684 396h1v1h-1zM684 553h1v1h-1zM685 397h1v1h-1zM685 554h1v2h-1zM686 398h1v1h-1zM686 556h1v2h-1zM687 399h1v1h-1zM687 558h1v1h-1zM688 241h1v1h-1zM688 400h1v1h-1zM688 559h1v1h-1zM689 242h1v2h-1zM689 401h1v1h-1zM690 244h1v1h-1zM690 402h1v1h-1zM691 245h1v1h-1zM691 403h1v2h-1zM691 561h1v1h-1zM692 246h1v1h-1zM692 405h1v1h-1zM692 562h1v1h-1zM693 247h1v2h-1zM693 406h1v1h-1zM694 249h1v1h-1zM694 407h1v1h-1zM695 250h1v1h-1zM695 408h1v1h-1zM696 251h1v2h-1zM696 409h1v1h-1zM697 253h1v2h-1zM697 410h1v1h-1zM698 255h1v2h-1zM698 411h1v1h-1zM699 257h1v1h-1zM700 258h1v2h-1zM701 260h1v2h-1zM701 413h1v1h-1zM702 262h1v2h-1zM702 414h1v1h-1zM703 264h1v2h-1zM703 415h1v1h-1zM704 266h1v2h-1zM704 416h1v1h-1zM705 268h1v3h-1zM705 417h1v1h-1zM706 271h1v2h-1zM706 418h1v1h-1zM706 561h1v1h-1zM707 273h1v3h-1zM708 276h1v2h-1zM709 278h1v3h-1zM709 420h1v1h-1zM710 281h1v2h-1zM710 421h1v1h-1zM711 283h1v3h-1zM711 422h1v1h-1zM711 558h1v1h-1zM712 286h1v3h-1zM712 423h1v1h-1zM712 557h1v1h-1zM713 289h1v3h-1zM713 424h1v1h-1zM713 556h1v1h-1zM714 292h1v3h-1zM714 425h1v1h-1zM714 555h1v1h-1zM715 295h1v4h-1zM715 426h1v1h-1zM716 299h1v3h-1zM716 427h1v1h-1zM717 302h1v3h-1zM717 428h1v1h-1zM717 553h1v1h-1zM718 305h1v3h-1zM718 429h1v1h-1zM718 552h1v1h-1zM719 308h1v3h-1zM719 430h1v1h-1zM719 551h1v1h-1zM720 311h1v4h-1zM720 431h1v1h-1zM720 549h1v2h-1zM721 315h1v3h-1zM721 432h1v1h-1zM721 548h1v1h-1zM722 318h1v3h-1zM722 433h1v1h-1zM722 547h1v1h-1zM723 321h1v4h-1zM723 545h1v2h-1zM724 325h1v3h-1zM724 544h1v1h-1zM725 328h1v3h-1zM725 435h1v1h-1zM725 543h1v1h-1zM726 331h1v4h-1zM726 436h1v1h-1zM726 541h1v2h-1zM727 335h1v3h-1zM727 437h1v1h-1zM727 540h1v1h-1zM728 338h1v3h-1zM728 438h1v1h-1zM728 538h1v2h-1zM729 341h1v3h-1zM729 536h1v2h-1zM730 344h1v3h-1zM730 534h1v2h-1zM731 347h1v3h-1zM731 440h1v1h-1zM731 532h1v2h-1zM732 350h1v3h-1zM732 441h1v1h-1zM732 530h1v2h-1zM733 353h1v3h-1zM733 528h1v2h-1zM734 356h1v3h-1zM734 526h1v2h-1zM735 359h1v3h-1zM735 443h1v1h-1zM735 523h1v3h-1zM736 362h1v3h-1zM736 521h1v2h-1zM737 365h1v4h-1zM737 519h1v2h-1zM738 369h1v3h-1zM738 517h1v2h-1zM739 372h1v3h-1zM739 515h1v2h-1zM740 375h1v3h-1zM740 513h1v2h-1zM741 378h1v4h-1zM741 511h1v2h-1zM742 382h1v3h-1zM742 509h1v2h-1zM743 385h1v2h-1zM743 507h1v2h-1zM744 387h1v1h-1zM745 388h1v1h-1zM746 389h1v1h-1zM749 391h1v1h-1zM750 392h1v1h-1zM840 485h1v2h-1zM841 483h1v2h-1zM842 481h1v2h-1zM843 479h1v2h-1zM844 477h1v2h-1zM845 475h1v2h-1zM846 473h1v2h-1zM847 472h1v1h-1zM848 427h1v1h-1zM848 471h1v1h-1zM849 470h1v1h-1zM850 469h1v1h-1zM851 425h1v1h-1zM852 424h1v1h-1zM853 467h1v1h-1zM854 466h1v1h-1zM856 381h1v1h-1zM857 380h1v1h-1zM858 379h1v1h-1zM861 377h1v1h-1zM862 376h1v1h-1zM863 375h1v1h-1zM864 374h1v1h-1zM865 372h1v2h-1zM866 371h1v1h-1zM867 370h1v1h-1zM868 369h1v1h-1zM869 367h1v2h-1zM870 366h1v1h-1zM871 364h1v2h-1zM872 362h1v2h-1zM872 467h1v1h-1zM873 360h1v2h-1zM873 468h1v1h-1zM874 358h1v2h-1zM874 469h1v1h-1zM875 355h1v3h-1zM875 470h1v2h-1zM876 353h1v2h-1zM876 472h1v1h-1zM877 351h1v2h-1zM877 473h1v1h-1zM878 349h1v2h-1zM878 474h1v1h-1zM879 346h1v3h-1zM879 475h1v1h-1zM880 344h1v2h-1zM880 476h1v1h-1zM881 342h1v2h-1zM882 340h1v2h-1zM883 338h1v2h-1zM883 478h1v1h-1zM884 336h1v2h-1zM884 479h1v1h-1zM885 334h1v2h-1zM886 332h1v2h-1zM887 330h1v2h-1zM887 481h1v1h-1zM888 328h1v2h-1zM889 326h1v2h-1zM890 324h1v2h-1zM890 405h1v1h-1zM890 483h1v1h-1zM891 322h1v2h-1zM892 320h1v2h-1zM893 318h1v2h-1zM894 316h1v2h-1zM895 314h1v2h-1zM895 402h1v1h-1zM896 312h1v2h-1zM897 310h1v2h-1zM898 309h1v1h-1zM898 400h1v1h-1zM899 307h1v2h-1zM900 306h1v1h-1zM901 304h1v2h-1zM902 302h1v2h-1zM903 301h1v1h-1zM903 397h1v1h-1zM904 299h1v2h-1zM904 396h1v1h-1zM905 298h1v1h-1zM906 297h1v1h-1zM907 295h1v2h-1zM907 394h1v1h-1zM908 294h1v1h-1zM908 393h1v1h-1zM909 293h1v1h-1zM910 291h1v2h-1zM911 290h1v1h-1zM911 391h1v1h-1zM912 288h1v2h-1zM913 286h1v2h-1zM914 285h1v1h-1zM914 389h1v1h-1zM915 283h1v2h-1zM916 282h1v1h-1zM917 280h1v2h-1zM918 278h1v2h-1zM919 276h1v2h-1zM919 386h1v1h-1zM920 274h1v2h-1zM920 385h1v1h-1zM921 271h1v3h-1zM921 383h1v2h-1zM922 268h1v3h-1zM922 382h1v1h-1zM923 266h1v2h-1zM923 381h1v1h-1zM924 263h1v3h-1zM924 380h1v1h-1zM925 260h1v3h-1zM925 378h1v2h-1zM926 258h1v2h-1zM926 377h1v1h-1zM927 255h1v3h-1zM927 376h1v1h-1zM928 252h1v3h-1zM928 374h1v2h-1zM929 248h1v4h-1zM929 373h1v1h-1zM930 245h1v3h-1zM930 371h1v2h-1zM931 242h1v3h-1zM931 370h1v1h-1zM932 239h1v3h-1zM932 368h1v2h-1zM933 235h1v4h-1zM933 367h1v1h-1zM934 232h1v3h-1zM934 365h1v2h-1zM935 229h1v3h-1zM935 364h1v1h-1zM936 226h1v3h-1zM936 362h1v2h-1zM937 223h1v3h-1zM937 360h1v2h-1zM938 220h1v3h-1zM938 359h1v1h-1zM939 216h1v4h-1zM939 357h1v2h-1zM940 213h1v3h-1zM940 356h1v1h-1zM941 210h1v3h-1zM941 354h1v2h-1zM942 207h1v3h-1zM942 352h1v2h-1zM943 204h1v3h-1zM943 351h1v1h-1zM944 201h1v3h-1zM944 349h1v2h-1zM945 198h1v3h-1zM945 347h1v2h-1zM946 195h1v3h-1zM946 346h1v1h-1zM947 193h1v2h-1zM947 344h1v2h-1zM948 190h1v3h-1zM948 343h1v1h-1zM949 187h1v3h-1zM949 341h1v2h-1zM950 184h1v3h-1zM950 339h1v2h-1zM951 181h1v3h-1zM951 338h1v1h-1zM952 178h1v3h-1zM952 336h1v2h-1zM953 176h1v2h-1zM953 335h1v1h-1zM954 173h1v3h-1zM954 333h1v2h-1zM955 170h1v3h-1zM955 332h1v1h-1zM956 167h1v3h-1zM956 330h1v2h-1zM957 165h1v2h-1zM957 329h1v1h-1zM958 162h1v3h-1zM958 327h1v2h-1zM959 159h1v3h-1zM959 326h1v1h-1zM960 157h1v2h-1zM960 324h1v2h-1zM961 154h1v3h-1zM961 323h1v1h-1zM962 152h1v2h-1zM962 321h1v2h-1zM963 149h1v3h-1zM963 320h1v1h-1zM964 147h1v2h-1zM964 318h1v2h-1zM965 144h1v3h-1zM965 317h1v1h-1zM966 142h1v2h-1zM966 315h1v2h-1zM967 140h1v2h-1zM967 314h1v1h-1zM968 138h1v2h-1zM968 312h1v2h-1zM968 488h1v1h-1zM969 136h1v2h-1zM969 311h1v1h-1zM969 487h1v1h-1zM970 134h1v2h-1zM970 309h1v2h-1zM970 486h1v1h-1zM971 133h1v1h-1zM971 308h1v1h-1zM971 484h1v2h-1zM972 131h1v2h-1zM972 306h1v2h-1zM972 483h1v1h-1zM973 129h1v2h-1zM973 305h1v1h-1zM973 482h1v1h-1zM974 127h1v2h-1zM974 303h1v2h-1zM974 481h1v1h-1zM975 126h1v1h-1zM975 302h1v1h-1zM975 479h1v2h-1zM976 125h1v1h-1zM976 300h1v2h-1zM976 477h1v2h-1zM977 123h1v2h-1zM977 299h1v1h-1zM977 475h1v2h-1zM978 122h1v1h-1zM978 297h1v2h-1zM978 473h1v2h-1zM979 121h1v1h-1zM979 296h1v1h-1zM979 471h1v2h-1zM980 120h1v1h-1zM980 294h1v2h-1zM980 469h1v2h-1zM981 118h1v2h-1zM981 293h1v1h-1zM981 467h1v2h-1zM982 117h1v1h-1zM982 291h1v2h-1zM982 465h1v2h-1zM983 116h1v1h-1zM983 290h1v1h-1zM983 462h1v3h-1zM984 115h1v1h-1zM984 288h1v2h-1zM984 460h1v2h-1zM985 287h1v1h-1zM985 458h1v2h-1zM986 285h1v2h-1zM986 456h1v2h-1zM987 113h1v1h-1zM987 284h1v1h-1zM987 453h1v3h-1zM988 112h1v1h-1zM988 282h1v2h-1zM988 451h1v2h-1zM989 281h1v1h-1zM989 449h1v2h-1zM990 279h1v2h-1zM990 447h1v2h-1zM991 110h1v1h-1zM991 278h1v1h-1zM991 444h1v3h-1zM992 277h1v1h-1zM992 442h1v2h-1zM993 275h1v2h-1zM993 440h1v2h-1zM994 274h1v1h-1zM994 438h1v2h-1zM995 273h1v1h-1zM995 435h1v3h-1zM996 272h1v1h-1zM996 433h1v2h-1zM997 270h1v2h-1zM997 431h1v2h-1zM998 269h1v1h-1zM998 429h1v2h-1zM999 268h1v1h-1zM999 426h1v3h-1zM1000 267h1v1h-1zM1000 424h1v2h-1zM1001 266h1v1h-1zM1001 422h1v2h-1zM1002 265h1v1h-1zM1002 419h1v3h-1zM1003 263h1v2h-1zM1003 417h1v2h-1zM1004 262h1v1h-1zM1004 414h1v3h-1zM1005 261h1v1h-1zM1005 412h1v2h-1zM1006 260h1v1h-1zM1006 410h1v2h-1zM1007 259h1v1h-1zM1007 407h1v3h-1zM1008 258h1v1h-1zM1008 405h1v2h-1zM1009 257h1v1h-1zM1009 402h1v3h-1zM1010 256h1v1h-1zM1010 400h1v2h-1zM1011 254h1v2h-1zM1011 397h1v3h-1zM1012 253h1v1h-1zM1012 395h1v2h-1zM1013 252h1v1h-1zM1013 392h1v3h-1zM1014 251h1v1h-1zM1014 390h1v2h-1zM1015 250h1v1h-1zM1015 387h1v3h-1zM1016 115h1v1h-1zM1016 249h1v1h-1zM1016 384h1v3h-1zM1017 248h1v1h-1zM1017 382h1v2h-1zM1018 247h1v1h-1zM1018 379h1v3h-1zM1019 117h1v1h-1zM1019 376h1v3h-1zM1020 118h1v1h-1zM1020 373h1v3h-1zM1021 245h1v1h-1zM1021 371h1v2h-1zM1022 244h1v1h-1zM1022 368h1v3h-1zM1023 120h1v1h-1zM1023 243h1v1h-1zM1023 365h1v3h-1zM1024 121h1v1h-1zM1024 242h1v1h-1zM1024 363h1v2h-1zM1025 241h1v1h-1zM1025 360h1v3h-1zM1026 240h1v1h-1zM1026 358h1v2h-1zM1027 123h1v1h-1zM1027 355h1v3h-1zM1028 124h1v1h-1zM1028 353h1v2h-1zM1029 238h1v1h-1zM1029 350h1v3h-1zM1030 237h1v1h-1zM1030 348h1v2h-1zM1031 236h1v1h-1zM1031 346h1v2h-1zM1032 235h1v1h-1zM1032 344h1v2h-1zM1033 342h1v2h-1zM1034 340h1v2h-1zM1035 233h1v1h-1zM1035 339h1v1h-1zM1036 232h1v1h-1zM1036 337h1v2h-1zM1037 335h1v2h-1zM1038 333h1v2h-1zM1039 230h1v1h-1zM1039 332h1v1h-1zM1040 229h1v1h-1zM1040 330h1v2h-1zM1041 329h1v1h-1zM1042 327h1v2h-1zM1043 227h1v1h-1zM1043 326h1v1h-1zM1044 226h1v1h-1zM1044 324h1v2h-1zM1045 323h1v1h-1zM1046 321h1v2h-1zM1047 224h1v1h-1zM1047 320h1v1h-1zM1048 319h1v1h-1zM1049 317h1v2h-1zM1050 132h1v1h-1zM1050 222h1v1h-1zM1050 316h1v1h-1zM1051 315h1v1h-1zM1052 314h1v1h-1zM1053 312h1v2h-1zM1054 311h1v1h-1zM1055 135h1v1h-1zM1055 310h1v1h-1zM1056 136h1v1h-1zM1056 308h1v2h-1zM1057 307h1v1h-1zM1058 305h1v2h-1zM1059 138h1v1h-1zM1059 304h1v1h-1zM1060 139h1v1h-1zM1060 302h1v2h-1zM1061 301h1v1h-1zM1062 299h1v2h-1zM1063 141h1v1h-1zM1063 298h1v1h-1zM1064 142h1v1h-1zM1064 296h1v2h-1zM1065 295h1v1h-1zM1066 293h1v2h-1zM1067 144h1v1h-1zM1067 292h1v1h-1zM1068 145h1v1h-1zM1068 290h1v2h-1zM1069 289h1v1h-1zM1070 287h1v2h-1zM1071 147h1v1h-1zM1071 286h1v1h-1zM1072 148h1v1h-1zM1072 285h1v1h-1zM1073 283h1v2h-1zM1074 282h1v1h-1zM1075 150h1v1h-1zM1075 281h1v1h-1zM1076 151h1v1h-1zM1076 280h1v1h-1zM1077 278h1v2h-1zM1078 277h1v1h-1zM1088 279h1v1h-1zM1089 280h1v1h-1zM1090 281h1v1h-1zM1093 283h1v1h-1zM1094 284h1v1h-1zM1095 285h1v1h-1zM1112 156h1v1h-1zM1113 157h1v1h-1zM1114 158h1v1h-1zM1117 160h1v1h-1zM1118 161h1v1h-1zM1226 296h1v1h-1zM1282 176h1v1h-1zM1287 179h1v1h-1zM1288 180h1v1h-1zM1291 182h1v1h-1zM1292 183h1v1h-1zM1295 185h1v1h-1zM1298 187h1v1h-1zM1359 280h1v1h-1zM1360 195h1v2h-1zM1360 281h1v3h-1zM1361 193h1v2h-1zM1361 284h1v4h-1zM1362 191h1v2h-1zM1362 242h1v1h-1zM1362 288h1v3h-1zM1363 190h1v1h-1zM1363 291h1v3h-1zM1364 188h1v2h-1zM1364 294h1v3h-1zM1365 186h1v2h-1zM1365 297h1v4h-1zM1366 184h1v2h-1zM1366 301h1v3h-1zM1367 183h1v1h-1zM1367 245h1v1h-1zM1367 304h1v3h-1zM1368 182h1v1h-1zM1368 246h1v1h-1zM1368 307h1v2h-1zM1369 309h1v3h-1zM1370 312h1v2h-1zM1371 180h1v1h-1zM1371 248h1v1h-1zM1371 314h1v3h-1zM1372 179h1v1h-1zM1372 249h1v1h-1zM1372 317h1v2h-1zM1373 319h1v3h-1zM1374 322h1v2h-1zM1375 177h1v1h-1zM1375 251h1v1h-1zM1375 324h1v3h-1zM1376 327h1v2h-1zM1377 329h1v2h-1zM1378 253h1v1h-1zM1378 331h1v2h-1zM1379 333h1v2h-1zM1380 335h1v2h-1zM1381 337h1v2h-1zM1382 339h1v2h-1zM1383 256h1v1h-1zM1383 341h1v2h-1zM1384 172h1v1h-1zM1384 257h1v1h-1zM1384 343h1v2h-1z" fill="#3CB371" shape-rendering="crispEdges"/>
<g shape-rendering="crispEdges">
<rect x="0" y="272" width="1614" height="1" fill="#DC143C"/>
<rect x="0" y="303" width="1614" height="1" fill="#DC143C"/>
<rect x="0" y="332" width="1614" height="1" fill="#FFA500"/>
<rect x="0" y="347" width="1614" height="1" fill="#C0C0C0"/>
<rect x="0" y="381" width="1614" height="1" fill="#0000FF"/>
<rect x="0" y="412" width="1614" height="1" fill="#0000FF"/>
</g>
<rect x="706.5" y="560.5" width="69" height="18" fill="#fff" stroke="#FF0000" stroke-width="1" shape-rendering="crispEdges"/>
<text x="707.4" y="576" font-size="16.8" fill="#FF0000" text-anchor="start" textLength="68.2" lengthAdjust="spacingAndGlyphs">3806.099</text>
<rect x="999.5" y="286.5" width="70" height="18" fill="#fff" stroke="#FF0000" stroke-width="1" shape-rendering="crispEdges"/>
<text x="1000.4" y="302" font-size="16.8" fill="#FF0000" text-anchor="start" textLength="68.2" lengthAdjust="spacingAndGlyphs">4070.832</text>
<rect x="1207.5" y="323.5" width="70" height="18" fill="#fff" stroke="#FF0000" stroke-width="1" shape-rendering="crispEdges"/>
<text x="1208.4" y="339" font-size="16.8" fill="#FF0000" text-anchor="start" textLength="68.2" lengthAdjust="spacingAndGlyphs">4035.046</text>
<rect x="1295.5" y="345.5" width="70" height="18" fill="#fff" stroke="#FF0000" stroke-width="1" shape-rendering="crispEdges"/>
<text x="1296.4" y="361" font-size="16.8" fill="#FF0000" text-anchor="start" textLength="68.2" lengthAdjust="spacingAndGlyphs">4013.825</text>
<g shape-rendering="crispEdges">
<rect x="696" y="569" width="10" height="1" fill="#FF0000"/>
<rect x="1070" y="293" width="4" height="4" fill="#FF0000"/>
<rect x="1071" y="294" width="2" height="2" fill="#fff"/>
<rect x="1074" y="295" width="6" height="1" fill="#FF0000"/>
<rect x="1278" y="330" width="4" height="4" fill="#FF0000"/>
<rect x="1279" y="331" width="2" height="2" fill="#fff"/>
<rect x="1282" y="332" width="6" height="1" fill="#FF0000"/>
<rect x="1366" y="353" width="4" height="4" fill="#FF0000"/>
<rect x="1367" y="354" width="2" height="2" fill="#fff"/>
<rect x="1370" y="354" width="6" height="1" fill="#FF0000"/>
</g>
<g shape-rendering="crispEdges">
<rect x="-1" y="214" width="1" height="16" fill="#000"/>
<rect x="-3" y="214" width="5" height="16" fill="#000"/>
<rect x="7" y="211" width="1" height="43" fill="#000"/>
<rect x="5" y="231" width="5" height="21" fill="#000"/>
<rect x="15" y="198" width="1" height="69" fill="#000"/>
<rect x="13" y="242" width="5" height="10" fill="#000"/>
<rect x="14" y="243" width="3" height="8" fill="#fff"/>
<rect x="23" y="211" width="1" height="101" fill="#000"/>
<rect x="21" y="211" width="5" height="31" fill="#000"/>
<rect x="22" y="212" width="3" height="29" fill="#fff"/>
<rect x="31" y="207" width="1" height="15" fill="#000"/>
<rect x="29" y="212" width="5" height="4" fill="#000"/>
<rect x="39" y="187" width="1" height="31" fill="#000"/>
<rect x="37" y="199" width="5" height="18" fill="#000"/>
<rect x="38" y="200" width="3" height="16" fill="#fff"/>
<rect x="47" y="193" width="1" height="26" fill="#000"/>
<rect x="45" y="198" width="5" height="4" fill="#000"/>
<rect x="55" y="190" width="1" height="46" fill="#000"/>
<rect x="53" y="200" width="5" height="19" fill="#000"/>
<rect x="63" y="166" width="1" height="59" fill="#000"/>
<rect x="61" y="177" width="5" height="42" fill="#000"/>
<rect x="62" y="178" width="3" height="40" fill="#fff"/>
<rect x="71" y="168" width="1" height="49" fill="#000"/>
<rect x="69" y="177" width="5" height="15" fill="#000"/>
<rect x="79" y="180" width="1" height="15" fill="#000"/>
<rect x="77" y="187" width="5" height="5" fill="#000"/>
<rect x="78" y="188" width="3" height="3" fill="#fff"/>
<rect x="87" y="178" width="1" height="16" fill="#000"/>
<rect x="85" y="187" width="5" height="3" fill="#000"/>
<rect x="95" y="180" width="1" height="16" fill="#000"/>
<rect x="93" y="184" width="5" height="7" fill="#000"/>
<rect x="94" y="185" width="3" height="5" fill="#fff"/>
<rect x="103" y="171" width="1" height="16" fill="#000"/>
<rect x="101" y="177" width="5" height="7" fill="#000"/>
<rect x="102" y="178" width="3" height="5" fill="#fff"/>
<rect x="111" y="174" width="1" height="48" fill="#000"/>
<rect x="109" y="177" width="5" height="29" fill="#000"/>
<rect x="119" y="60" width="1" height="158" fill="#000"/>
<rect x="117" y="60" width="5" height="146" fill="#000"/>
<rect x="118" y="61" width="3" height="144" fill="#fff"/>
<rect x="159" y="60" width="1" height="177" fill="#000"/>
<rect x="157" y="60" width="5" height="177" fill="#000"/>
<rect x="167" y="194" width="1" height="73" fill="#000"/>
<rect x="165" y="216" width="5" height="21" fill="#000"/>
<rect x="166" y="217" width="3" height="19" fill="#fff"/>
<rect x="175" y="206" width="1" height="22" fill="#000"/>
<rect x="173" y="216" width="5" height="3" fill="#000"/>
<rect x="174" y="217" width="3" height="1" fill="#fff"/>
<rect x="183" y="214" width="1" height="27" fill="#000"/>
<rect x="181" y="215" width="5" height="4" fill="#000"/>
<rect x="191" y="217" width="1" height="36" fill="#000"/>
<rect x="189" y="218" width="5" height="17" fill="#000"/>
<rect x="199" y="219" width="1" height="34" fill="#000"/>
<rect x="197" y="234" width="5" height="8" fill="#000"/>
<rect x="207" y="210" width="1" height="95" fill="#000"/>
<rect x="205" y="242" width="5" height="20" fill="#000"/>
<rect x="215" y="216" width="1" height="72" fill="#000"/>
<rect x="213" y="244" width="5" height="18" fill="#000"/>
<rect x="214" y="245" width="3" height="16" fill="#fff"/>
<rect x="223" y="269" width="1" height="23" fill="#000"/>
<rect x="221" y="271" width="5" height="16" fill="#000"/>
<rect x="231" y="283" width="1" height="27" fill="#000"/>
<rect x="229" y="285" width="5" height="2" fill="#000"/>
<rect x="239" y="272" width="1" height="26" fill="#000"/>
<rect x="237" y="285" width="5" height="11" fill="#000"/>
<rect x="247" y="293" width="1" height="43" fill="#000"/>
<rect x="245" y="295" width="5" height="22" fill="#000"/>
<rect x="255" y="297" width="1" height="74" fill="#000"/>
<rect x="253" y="317" width="5" height="27" fill="#000"/>
<rect x="263" y="322" width="1" height="77" fill="#000"/>
<rect x="261" y="344" width="5" height="38" fill="#000"/>
<rect x="271" y="367" width="1" height="17" fill="#000"/>
<rect x="269" y="369" width="5" height="13" fill="#000"/>
<rect x="270" y="370" width="3" height="11" fill="#fff"/>
<rect x="279" y="358" width="1" height="51" fill="#000"/>
<rect x="277" y="358" width="5" height="12" fill="#000"/>
<rect x="278" y="359" width="3" height="10" fill="#fff"/>
<rect x="287" y="336" width="1" height="26" fill="#000"/>
<rect x="285" y="354" width="5" height="4" fill="#000"/>
<rect x="286" y="355" width="3" height="2" fill="#fff"/>
<rect x="295" y="332" width="1" height="30" fill="#000"/>
<rect x="293" y="352" width="5" height="2" fill="#000"/>
<rect x="303" y="301" width="1" height="106" fill="#000"/>
<rect x="301" y="352" width="5" height="39" fill="#000"/>
<rect x="311" y="330" width="1" height="87" fill="#000"/>
<rect x="309" y="373" width="5" height="18" fill="#000"/>
<rect x="310" y="374" width="3" height="16" fill="#fff"/>
<rect x="319" y="370" width="1" height="14" fill="#000"/>
<rect x="317" y="373" width="5" height="5" fill="#000"/>
<rect x="327" y="353" width="1" height="28" fill="#000"/>
<rect x="325" y="357" width="5" height="20" fill="#000"/>
<rect x="326" y="358" width="3" height="18" fill="#fff"/>
<rect x="335" y="351" width="1" height="18" fill="#000"/>
<rect x="333" y="357" width="5" height="2" fill="#000"/>
<rect x="343" y="316" width="1" height="45" fill="#000"/>
<rect x="341" y="323" width="5" height="36" fill="#000"/>
<rect x="342" y="324" width="3" height="34" fill="#fff"/>
<rect x="351" y="322" width="1" height="101" fill="#000"/>
<rect x="349" y="324" width="5" height="26" fill="#000"/>
<rect x="359" y="347" width="1" height="101" fill="#000"/>
<rect x="357" y="351" width="5" height="94" fill="#000"/>
<rect x="367" y="424" width="1" height="20" fill="#000"/>
<rect x="365" y="429" width="5" height="10" fill="#000"/>
<rect x="366" y="430" width="3" height="8" fill="#fff"/>
<rect x="375" y="416" width="1" height="36" fill="#000"/>
<rect x="373" y="428" width="5" height="1" fill="#000"/>
<rect x="383" y="427" width="1" height="45" fill="#000"/>
<rect x="381" y="429" width="5" height="16" fill="#000"/>
<rect x="391" y="443" width="1" height="46" fill="#000"/>
<rect x="389" y="445" width="5" height="39" fill="#000"/>
<rect x="399" y="409" width="1" height="92" fill="#000"/>
<rect x="397" y="482" width="5" height="2" fill="#000"/>
<rect x="407" y="441" width="1" height="79" fill="#000"/>
<rect x="405" y="443" width="5" height="39" fill="#000"/>
<rect x="406" y="444" width="3" height="37" fill="#fff"/>
<rect x="415" y="426" width="1" height="42" fill="#000"/>
<rect x="413" y="428" width="5" height="16" fill="#000"/>
<rect x="414" y="429" width="3" height="14" fill="#fff"/>
<rect x="423" y="396" width="1" height="38" fill="#000"/>
<rect x="421" y="403" width="5" height="26" fill="#000"/>
<rect x="422" y="404" width="3" height="24" fill="#fff"/>
<rect x="431" y="395" width="1" height="25" fill="#000"/>
<rect x="429" y="403" width="5" height="1" fill="#000"/>
<rect x="439" y="382" width="1" height="28" fill="#000"/>
<rect x="437" y="384" width="5" height="20" fill="#000"/>
<rect x="438" y="385" width="3" height="18" fill="#fff"/>
<rect x="447" y="346" width="1" height="65" fill="#000"/>
<rect x="445" y="348" width="5" height="35" fill="#000"/>
<rect x="446" y="349" width="3" height="33" fill="#fff"/>
<rect x="455" y="331" width="1" height="63" fill="#000"/>
<rect x="453" y="348" width="5" height="1" fill="#000"/>
<rect x="463" y="326" width="1" height="13" fill="#000"/>
<rect x="461" y="332" width="5" height="1" fill="#000"/>
<rect x="471" y="331" width="1" height="57" fill="#000"/>
<rect x="469" y="332" width="5" height="45" fill="#000"/>
<rect x="479" y="364" width="1" height="24" fill="#000"/>
<rect x="477" y="371" width="5" height="6" fill="#000"/>
<rect x="478" y="372" width="3" height="4" fill="#fff"/>
<rect x="487" y="352" width="1" height="19" fill="#000"/>
<rect x="485" y="359" width="5" height="12" fill="#000"/>
<rect x="486" y="360" width="3" height="10" fill="#fff"/>
<rect x="495" y="341" width="1" height="50" fill="#000"/>
<rect x="493" y="350" width="5" height="9" fill="#000"/>
<rect x="494" y="351" width="3" height="7" fill="#fff"/>
<rect x="503" y="323" width="1" height="49" fill="#000"/>
<rect x="501" y="350" width="5" height="12" fill="#000"/>
<rect x="511" y="361" width="1" height="9" fill="#000"/>
<rect x="509" y="361" width="5" height="1" fill="#000"/>
<rect x="519" y="343" width="1" height="23" fill="#000"/>
<rect x="517" y="351" width="5" height="8" fill="#000"/>
<rect x="518" y="352" width="3" height="6" fill="#fff"/>
<rect x="527" y="325" width="1" height="26" fill="#000"/>
<rect x="525" y="329" width="5" height="22" fill="#000"/>
<rect x="526" y="330" width="3" height="20" fill="#fff"/>
<rect x="535" y="282" width="1" height="47" fill="#000"/>
<rect x="533" y="302" width="5" height="27" fill="#000"/>
<rect x="534" y="303" width="3" height="25" fill="#fff"/>
<rect x="543" y="294" width="1" height="45" fill="#000"/>
<rect x="541" y="302" width="5" height="7" fill="#000"/>
<rect x="551" y="278" width="1" height="51" fill="#000"/>
<rect x="549" y="279" width="5" height="29" fill="#000"/>
<rect x="550" y="280" width="3" height="27" fill="#fff"/>
<rect x="559" y="270" width="1" height="14" fill="#000"/>
<rect x="557" y="279" width="5" height="2" fill="#000"/>
<rect x="567" y="277" width="1" height="24" fill="#000"/>
<rect x="565" y="280" width="5" height="14" fill="#000"/>
<rect x="575" y="283" width="1" height="20" fill="#000"/>
<rect x="573" y="293" width="5" height="4" fill="#000"/>
<rect x="583" y="285" width="1" height="32" fill="#000"/>
<rect x="581" y="297" width="5" height="19" fill="#000"/>
<rect x="591" y="305" width="1" height="100" fill="#000"/>
<rect x="589" y="315" width="5" height="88" fill="#000"/>
<rect x="599" y="395" width="1" height="69" fill="#000"/>
<rect x="597" y="402" width="5" height="45" fill="#000"/>
<rect x="607" y="445" width="1" height="30" fill="#000"/>
<rect x="605" y="447" width="5" height="28" fill="#000"/>
<rect x="615" y="438" width="1" height="41" fill="#000"/>
<rect x="613" y="441" width="5" height="35" fill="#000"/>
<rect x="614" y="442" width="3" height="33" fill="#fff"/>
<rect x="623" y="438" width="1" height="63" fill="#000"/>
<rect x="621" y="441" width="5" height="41" fill="#000"/>
<rect x="631" y="474" width="1" height="44" fill="#000"/>
<rect x="629" y="479" width="5" height="2" fill="#000"/>
<rect x="639" y="435" width="1" height="67" fill="#000"/>
<rect x="637" y="450" width="5" height="29" fill="#000"/>
<rect x="638" y="451" width="3" height="27" fill="#fff"/>
<rect x="647" y="427" width="1" height="61" fill="#000"/>
<rect x="645" y="450" width="5" height="26" fill="#000"/>
<rect x="655" y="461" width="1" height="23" fill="#000"/>
<rect x="653" y="464" width="5" height="12" fill="#000"/>
<rect x="654" y="465" width="3" height="10" fill="#fff"/>
<rect x="663" y="441" width="1" height="24" fill="#000"/>
<rect x="661" y="449" width="5" height="15" fill="#000"/>
<rect x="662" y="450" width="3" height="13" fill="#fff"/>
<rect x="671" y="430" width="1" height="27" fill="#000"/>
<rect x="669" y="434" width="5" height="15" fill="#000"/>
<rect x="670" y="435" width="3" height="13" fill="#fff"/>
<rect x="679" y="421" width="1" height="22" fill="#000"/>
<rect x="677" y="428" width="5" height="6" fill="#000"/>
<rect x="678" y="429" width="3" height="4" fill="#fff"/>
<rect x="687" y="426" width="1" height="91" fill="#000"/>
<rect x="685" y="428" width="5" height="82" fill="#000"/>
<rect x="695" y="470" width="1" height="99" fill="#000"/>
<rect x="693" y="473" width="5" height="37" fill="#000"/>
<rect x="694" y="474" width="3" height="35" fill="#fff"/>
<rect x="703" y="433" width="1" height="11" fill="#000"/>
<rect x="701" y="436" width="5" height="8" fill="#000"/>
<rect x="702" y="437" width="3" height="6" fill="#fff"/>
<rect x="711" y="428" width="1" height="23" fill="#000"/>
<rect x="709" y="436" width="5" height="6" fill="#000"/>
<rect x="719" y="415" width="1" height="27" fill="#000"/>
<rect x="717" y="429" width="5" height="12" fill="#000"/>
<rect x="718" y="430" width="3" height="10" fill="#fff"/>
<rect x="727" y="422" width="1" height="39" fill="#000"/>
<rect x="725" y="429" width="5" height="5" fill="#000"/>
<rect x="735" y="397" width="1" height="69" fill="#000"/>
<rect x="733" y="403" width="5" height="31" fill="#000"/>
<rect x="734" y="404" width="3" height="29" fill="#fff"/>
<rect x="743" y="389" width="1" height="38" fill="#000"/>
<rect x="741" y="397" width="5" height="5" fill="#000"/>
<rect x="742" y="398" width="3" height="3" fill="#fff"/>
<rect x="751" y="387" width="1" height="55" fill="#000"/>
<rect x="749" y="397" width="5" height="26" fill="#000"/>
<rect x="759" y="420" width="1" height="14" fill="#000"/>
<rect x="757" y="423" width="5" height="8" fill="#000"/>
<rect x="767" y="429" width="1" height="33" fill="#000"/>
<rect x="765" y="430" width="5" height="19" fill="#000"/>
<rect x="775" y="432" width="1" height="29" fill="#000"/>
<rect x="773" y="442" width="5" height="7" fill="#000"/>
<rect x="774" y="443" width="3" height="5" fill="#fff"/>
<rect x="783" y="432" width="1" height="70" fill="#000"/>
<rect x="781" y="442" width="5" height="25" fill="#000"/>
<rect x="791" y="416" width="1" height="66" fill="#000"/>
<rect x="789" y="427" width="5" height="40" fill="#000"/>
<rect x="790" y="428" width="3" height="38" fill="#fff"/>
<rect x="799" y="406" width="1" height="22" fill="#000"/>
<rect x="797" y="412" width="5" height="16" fill="#000"/>
<rect x="798" y="413" width="3" height="14" fill="#fff"/>
<rect x="807" y="401" width="1" height="28" fill="#000"/>
<rect x="805" y="402" width="5" height="9" fill="#000"/>
<rect x="806" y="403" width="3" height="7" fill="#fff"/>
<rect x="815" y="402" width="1" height="20" fill="#000"/>
<rect x="813" y="402" width="5" height="19" fill="#000"/>
<rect x="823" y="418" width="1" height="38" fill="#000"/>
<rect x="821" y="420" width="5" height="28" fill="#000"/>
<rect x="831" y="392" width="1" height="65" fill="#000"/>
<rect x="829" y="417" width="5" height="31" fill="#000"/>
<rect x="830" y="418" width="3" height="29" fill="#fff"/>
<rect x="839" y="371" width="1" height="71" fill="#000"/>
<rect x="837" y="390" width="5" height="26" fill="#000"/>
<rect x="838" y="391" width="3" height="24" fill="#fff"/>
<rect x="847" y="390" width="1" height="19" fill="#000"/>
<rect x="845" y="391" width="5" height="9" fill="#000"/>
<rect x="855" y="375" width="1" height="31" fill="#000"/>
<rect x="853" y="394" width="5" height="7" fill="#000"/>
<rect x="854" y="395" width="3" height="5" fill="#fff"/>
<rect x="863" y="375" width="1" height="34" fill="#000"/>
<rect x="861" y="377" width="5" height="17" fill="#000"/>
<rect x="862" y="378" width="3" height="15" fill="#fff"/>
<rect x="871" y="359" width="1" height="43" fill="#000"/>
<rect x="869" y="367" width="5" height="9" fill="#000"/>
<rect x="870" y="368" width="3" height="7" fill="#fff"/>
<rect x="879" y="315" width="1" height="69" fill="#000"/>
<rect x="877" y="320" width="5" height="47" fill="#000"/>
<rect x="878" y="321" width="3" height="45" fill="#fff"/>
<rect x="887" y="293" width="1" height="30" fill="#000"/>
<rect x="885" y="311" width="5" height="9" fill="#000"/>
<rect x="886" y="312" width="3" height="7" fill="#fff"/>
<rect x="895" y="307" width="1" height="14" fill="#000"/>
<rect x="893" y="310" width="5" height="2" fill="#000"/>
<rect x="903" y="307" width="1" height="20" fill="#000"/>
<rect x="901" y="310" width="5" height="9" fill="#000"/>
<rect x="911" y="307" width="1" height="16" fill="#000"/>
<rect x="909" y="314" width="5" height="6" fill="#000"/>
<rect x="910" y="315" width="3" height="4" fill="#fff"/>
<rect x="919" y="289" width="1" height="27" fill="#000"/>
<rect x="917" y="309" width="5" height="5" fill="#000"/>
<rect x="918" y="310" width="3" height="3" fill="#fff"/>
<rect x="927" y="235" width="1" height="76" fill="#000"/>
<rect x="925" y="236" width="5" height="74" fill="#000"/>
<rect x="926" y="237" width="3" height="72" fill="#fff"/>
<rect x="935" y="207" width="1" height="37" fill="#000"/>
<rect x="933" y="207" width="5" height="29" fill="#000"/>
<rect x="934" y="208" width="3" height="27" fill="#fff"/>
<rect x="943" y="189" width="1" height="12" fill="#000"/>
<rect x="941" y="195" width="5" height="5" fill="#000"/>
<rect x="942" y="196" width="3" height="3" fill="#fff"/>
<rect x="951" y="184" width="1" height="16" fill="#000"/>
<rect x="949" y="189" width="5" height="6" fill="#000"/>
<rect x="950" y="190" width="3" height="4" fill="#fff"/>
<rect x="959" y="164" width="1" height="27" fill="#000"/>
<rect x="957" y="167" width="5" height="22" fill="#000"/>
<rect x="958" y="168" width="3" height="20" fill="#fff"/>
<rect x="967" y="159" width="1" height="22" fill="#000"/>
<rect x="965" y="167" width="5" height="12" fill="#000"/>
<rect x="975" y="177" width="1" height="20" fill="#000"/>
<rect x="973" y="178" width="5" height="6" fill="#000"/>
<rect x="983" y="176" width="1" height="12" fill="#000"/>
<rect x="981" y="179" width="5" height="5" fill="#000"/>
<rect x="982" y="180" width="3" height="3" fill="#fff"/>
<rect x="991" y="182" width="1" height="20" fill="#000"/>
<rect x="989" y="185" width="5" height="1" fill="#000"/>
<rect x="999" y="183" width="1" height="33" fill="#000"/>
<rect x="997" y="184" width="5" height="15" fill="#000"/>
<rect x="1007" y="192" width="1" height="38" fill="#000"/>
<rect x="1005" y="198" width="5" height="26" fill="#000"/>
<rect x="1015" y="197" width="1" height="45" fill="#000"/>
<rect x="1013" y="224" width="5" height="3" fill="#000"/>
<rect x="1023" y="212" width="1" height="51" fill="#000"/>
<rect x="1021" y="214" width="5" height="12" fill="#000"/>
<rect x="1022" y="215" width="3" height="10" fill="#fff"/>
<rect x="1031" y="195" width="1" height="47" fill="#000"/>
<rect x="1029" y="215" width="5" height="21" fill="#000"/>
<rect x="1039" y="213" width="1" height="29" fill="#000"/>
<rect x="1037" y="215" width="5" height="20" fill="#000"/>
<rect x="1038" y="216" width="3" height="18" fill="#fff"/>
<rect x="1047" y="207" width="1" height="15" fill="#000"/>
<rect x="1045" y="215" width="5" height="3" fill="#000"/>
<rect x="1055" y="212" width="1" height="22" fill="#000"/>
<rect x="1053" y="217" width="5" height="7" fill="#000"/>
<rect x="1063" y="218" width="1" height="21" fill="#000"/>
<rect x="1061" y="219" width="5" height="4" fill="#000"/>
<rect x="1062" y="220" width="3" height="2" fill="#fff"/>
<rect x="1071" y="198" width="1" height="93" fill="#000"/>
<rect x="1069" y="219" width="5" height="68" fill="#000"/>
<rect x="1079" y="237" width="1" height="58" fill="#000"/>
<rect x="1077" y="267" width="5" height="20" fill="#000"/>
<rect x="1078" y="268" width="3" height="18" fill="#fff"/>
<rect x="1087" y="263" width="1" height="18" fill="#000"/>
<rect x="1085" y="267" width="5" height="12" fill="#000"/>
<rect x="1095" y="257" width="1" height="26" fill="#000"/>
<rect x="1093" y="267" width="5" height="12" fill="#000"/>
<rect x="1094" y="268" width="3" height="10" fill="#fff"/>
<rect x="1103" y="249" width="1" height="25" fill="#000"/>
<rect x="1101" y="255" width="5" height="12" fill="#000"/>
<rect x="1102" y="256" width="3" height="10" fill="#fff"/>
<rect x="1111" y="241" width="1" height="19" fill="#000"/>
<rect x="1109" y="244" width="5" height="11" fill="#000"/>
<rect x="1110" y="245" width="3" height="9" fill="#fff"/>
<rect x="1119" y="228" width="1" height="67" fill="#000"/>
<rect x="1117" y="239" width="5" height="5" fill="#000"/>
<rect x="1118" y="240" width="3" height="3" fill="#fff"/>
<rect x="1127" y="186" width="1" height="56" fill="#000"/>
<rect x="1125" y="186" width="5" height="53" fill="#000"/>
<rect x="1126" y="187" width="3" height="51" fill="#fff"/>
<rect x="1135" y="173" width="1" height="19" fill="#000"/>
<rect x="1133" y="180" width="5" height="7" fill="#000"/>
<rect x="1134" y="181" width="3" height="5" fill="#fff"/>
<rect x="1143" y="178" width="1" height="10" fill="#000"/>
<rect x="1141" y="181" width="5" height="6" fill="#000"/>
<rect x="1151" y="179" width="1" height="20" fill="#000"/>
<rect x="1149" y="186" width="5" height="13" fill="#000"/>
<rect x="1159" y="193" width="1" height="31" fill="#000"/>
<rect x="1157" y="198" width="5" height="25" fill="#000"/>
<rect x="1167" y="201" width="1" height="68" fill="#000"/>
<rect x="1165" y="222" width="5" height="38" fill="#000"/>
<rect x="1175" y="229" width="1" height="38" fill="#000"/>
<rect x="1173" y="257" width="5" height="3" fill="#000"/>
<rect x="1174" y="258" width="3" height="1" fill="#fff"/>
<rect x="1183" y="252" width="1" height="9" fill="#000"/>
<rect x="1181" y="256" width="5" height="1" fill="#000"/>
<rect x="1191" y="237" width="1" height="24" fill="#000"/>
<rect x="1189" y="237" width="5" height="20" fill="#000"/>
<rect x="1190" y="238" width="3" height="18" fill="#fff"/>
<rect x="1199" y="216" width="1" height="23" fill="#000"/>
<rect x="1197" y="216" width="5" height="21" fill="#000"/>
<rect x="1198" y="217" width="3" height="19" fill="#fff"/>
<rect x="1207" y="207" width="1" height="13" fill="#000"/>
<rect x="1205" y="211" width="5" height="6" fill="#000"/>
<rect x="1206" y="212" width="3" height="4" fill="#fff"/>
<rect x="1215" y="195" width="1" height="39" fill="#000"/>
<rect x="1213" y="210" width="5" height="14" fill="#000"/>
<rect x="1223" y="224" width="1" height="33" fill="#000"/>
<rect x="1221" y="225" width="5" height="21" fill="#000"/>
<rect x="1231" y="240" width="1" height="11" fill="#000"/>
<rect x="1229" y="243" width="5" height="3" fill="#000"/>
<rect x="1230" y="244" width="3" height="1" fill="#fff"/>
<rect x="1239" y="243" width="1" height="24" fill="#000"/>
<rect x="1237" y="243" width="5" height="22" fill="#000"/>
<rect x="1247" y="256" width="1" height="16" fill="#000"/>
<rect x="1245" y="261" width="5" height="3" fill="#000"/>
<rect x="1246" y="262" width="3" height="1" fill="#fff"/>
<rect x="1255" y="255" width="1" height="34" fill="#000"/>
<rect x="1253" y="261" width="5" height="18" fill="#000"/>
<rect x="1263" y="226" width="1" height="65" fill="#000"/>
<rect x="1261" y="245" width="5" height="33" fill="#000"/>
<rect x="1262" y="246" width="3" height="31" fill="#fff"/>
<rect x="1271" y="199" width="1" height="58" fill="#000"/>
<rect x="1269" y="204" width="5" height="41" fill="#000"/>
<rect x="1270" y="205" width="3" height="39" fill="#fff"/>
<rect x="1279" y="204" width="1" height="14" fill="#000"/>
<rect x="1277" y="204" width="5" height="14" fill="#000"/>
<rect x="1287" y="205" width="1" height="18" fill="#000"/>
<rect x="1285" y="217" width="5" height="4" fill="#000"/>
<rect x="1295" y="212" width="1" height="18" fill="#000"/>
<rect x="1293" y="220" width="5" height="5" fill="#000"/>
<rect x="1303" y="210" width="1" height="16" fill="#000"/>
<rect x="1301" y="217" width="5" height="7" fill="#000"/>
<rect x="1302" y="218" width="3" height="5" fill="#fff"/>
<rect x="1311" y="203" width="1" height="33" fill="#000"/>
<rect x="1309" y="214" width="5" height="3" fill="#000"/>
<rect x="1310" y="215" width="3" height="1" fill="#fff"/>
<rect x="1319" y="208" width="1" height="53" fill="#000"/>
<rect x="1317" y="214" width="5" height="37" fill="#000"/>
<rect x="1327" y="247" width="1" height="7" fill="#000"/>
<rect x="1325" y="247" width="5" height="4" fill="#000"/>
<rect x="1326" y="248" width="3" height="2" fill="#fff"/>
<rect x="1335" y="243" width="1" height="21" fill="#000"/>
<rect x="1333" y="246" width="5" height="6" fill="#000"/>
<rect x="1343" y="247" width="1" height="15" fill="#000"/>
<rect x="1341" y="249" width="5" height="3" fill="#000"/>
<rect x="1342" y="250" width="3" height="1" fill="#fff"/>
<rect x="1351" y="219" width="1" height="38" fill="#000"/>
<rect x="1349" y="239" width="5" height="11" fill="#000"/>
<rect x="1350" y="240" width="3" height="9" fill="#fff"/>
<rect x="1359" y="239" width="1" height="46" fill="#000"/>
<rect x="1357" y="239" width="5" height="33" fill="#000"/>
<rect x="1367" y="255" width="1" height="99" fill="#000"/>
<rect x="1365" y="270" width="5" height="84" fill="#000"/>
<rect x="1375" y="342" width="1" height="13" fill="#000"/>
<rect x="1373" y="342" width="5" height="13" fill="#000"/>
<rect x="1374" y="343" width="3" height="11" fill="#fff"/>
<rect x="1383" y="342" width="1" height="8" fill="#000"/>
<rect x="1381" y="343" width="5" height="5" fill="#000"/>
</g>
</g>
<g shape-rendering="crispEdges">
<rect x="7" y="673" width="1" height="50" fill="#C0C0C0"/>
<rect x="15" y="673" width="1" height="52" fill="#C0C0C0"/>
<rect x="23" y="673" width="1" height="50" fill="#C0C0C0"/>
<rect x="31" y="673" width="1" height="48" fill="#C0C0C0"/>
<rect x="39" y="673" width="1" height="45" fill="#C0C0C0"/>
<rect x="47" y="673" width="1" height="41" fill="#C0C0C0"/>
<rect x="55" y="673" width="1" height="39" fill="#C0C0C0"/>
<rect x="63" y="673" width="1" height="36" fill="#C0C0C0"/>
<rect x="71" y="673" width="1" height="31" fill="#C0C0C0"/>
<rect x="79" y="673" width="1" height="28" fill="#C0C0C0"/>
<rect x="87" y="673" width="1" height="26" fill="#C0C0C0"/>
<rect x="95" y="673" width="1" height="22" fill="#C0C0C0"/>
<rect x="103" y="673" width="1" height="19" fill="#C0C0C0"/>
<rect x="111" y="673" width="1" height="19" fill="#C0C0C0"/>
<rect x="119" y="673" width="1" height="3" fill="#C0C0C0"/>
<rect x="127" y="666" width="1" height="8" fill="#C0C0C0"/>
<rect x="135" y="657" width="1" height="17" fill="#C0C0C0"/>
<rect x="143" y="652" width="1" height="22" fill="#C0C0C0"/>
<rect x="151" y="649" width="1" height="25" fill="#C0C0C0"/>
<rect x="159" y="663" width="1" height="11" fill="#C0C0C0"/>
<rect x="167" y="669" width="1" height="5" fill="#C0C0C0"/>
<rect x="175" y="673" width="1" height="5" fill="#C0C0C0"/>
<rect x="183" y="673" width="1" height="10" fill="#C0C0C0"/>
<rect x="191" y="673" width="1" height="16" fill="#C0C0C0"/>
<rect x="199" y="673" width="1" height="21" fill="#C0C0C0"/>
<rect x="207" y="673" width="1" height="26" fill="#C0C0C0"/>
<rect x="215" y="673" width="1" height="29" fill="#C0C0C0"/>
<rect x="223" y="673" width="1" height="35" fill="#C0C0C0"/>
<rect x="231" y="673" width="1" height="39" fill="#C0C0C0"/>
<rect x="239" y="673" width="1" height="43" fill="#C0C0C0"/>
<rect x="247" y="673" width="1" height="48" fill="#C0C0C0"/>
<rect x="255" y="673" width="1" height="54" fill="#C0C0C0"/>
<rect x="263" y="673" width="1" height="61" fill="#C0C0C0"/>
<rect x="271" y="673" width="1" height="66" fill="#C0C0C0"/>
<rect x="279" y="673" width="1" height="67" fill="#C0C0C0"/>
<rect x="287" y="673" width="1" height="67" fill="#C0C0C0"/>
<rect x="295" y="673" width="1" height="66" fill="#C0C0C0"/>
<rect x="303" y="673" width="1" height="70" fill="#C0C0C0"/>
<rect x="311" y="673" width="1" height="68" fill="#C0C0C0"/>
<rect x="319" y="673" width="1" height="67" fill="#C0C0C0"/>
<rect x="327" y="673" width="1" height="65" fill="#C0C0C0"/>
<rect x="335" y="673" width="1" height="61" fill="#C0C0C0"/>
<rect x="343" y="673" width="1" height="54" fill="#C0C0C0"/>
<rect x="351" y="673" width="1" height="51" fill="#C0C0C0"/>
<rect x="359" y="673" width="1" height="58" fill="#C0C0C0"/>
<rect x="367" y="673" width="1" height="62" fill="#C0C0C0"/>
<rect x="375" y="673" width="1" height="63" fill="#C0C0C0"/>
<rect x="383" y="673" width="1" height="65" fill="#C0C0C0"/>
<rect x="391" y="673" width="1" height="70" fill="#C0C0C0"/>
<rect x="399" y="673" width="1" height="72" fill="#C0C0C0"/>
<rect x="407" y="673" width="1" height="70" fill="#C0C0C0"/>
<rect x="415" y="673" width="1" height="65" fill="#C0C0C0"/>
<rect x="423" y="673" width="1" height="59" fill="#C0C0C0"/>
<rect x="431" y="673" width="1" height="53" fill="#C0C0C0"/>
<rect x="439" y="673" width="1" height="46" fill="#C0C0C0"/>
<rect x="447" y="673" width="1" height="36" fill="#C0C0C0"/>
<rect x="455" y="673" width="1" height="27" fill="#C0C0C0"/>
<rect x="463" y="673" width="1" height="20" fill="#C0C0C0"/>
<rect x="471" y="673" width="1" height="17" fill="#C0C0C0"/>
<rect x="479" y="673" width="1" height="15" fill="#C0C0C0"/>
<rect x="487" y="673" width="1" height="11" fill="#C0C0C0"/>
<rect x="495" y="673" width="1" height="7" fill="#C0C0C0"/>
<rect x="503" y="673" width="1" height="5" fill="#C0C0C0"/>
<rect x="511" y="673" width="1" height="5" fill="#C0C0C0"/>
<rect x="519" y="673" width="1" height="2" fill="#C0C0C0"/>
<rect x="527" y="671" width="1" height="3" fill="#C0C0C0"/>
<rect x="535" y="665" width="1" height="9" fill="#C0C0C0"/>
<rect x="543" y="661" width="1" height="13" fill="#C0C0C0"/>
<rect x="551" y="655" width="1" height="19" fill="#C0C0C0"/>
<rect x="559" y="651" width="1" height="23" fill="#C0C0C0"/>
<rect x="567" y="649" width="1" height="25" fill="#C0C0C0"/>
<rect x="575" y="648" width="1" height="26" fill="#C0C0C0"/>
<rect x="583" y="650" width="1" height="24" fill="#C0C0C0"/>
<rect x="591" y="661" width="1" height="13" fill="#C0C0C0"/>
<rect x="607" y="673" width="1" height="14" fill="#C0C0C0"/>
<rect x="615" y="673" width="1" height="21" fill="#C0C0C0"/>
<rect x="623" y="673" width="1" height="30" fill="#C0C0C0"/>
<rect x="631" y="673" width="1" height="37" fill="#C0C0C0"/>
<rect x="639" y="673" width="1" height="38" fill="#C0C0C0"/>
<rect x="647" y="673" width="1" height="41" fill="#C0C0C0"/>
<rect x="655" y="673" width="1" height="43" fill="#C0C0C0"/>
<rect x="663" y="673" width="1" height="42" fill="#C0C0C0"/>
<rect x="671" y="673" width="1" height="39" fill="#C0C0C0"/>
<rect x="679" y="673" width="1" height="36" fill="#C0C0C0"/>
<rect x="687" y="673" width="1" height="40" fill="#C0C0C0"/>
<rect x="695" y="673" width="1" height="41" fill="#C0C0C0"/>
<rect x="703" y="673" width="1" height="38" fill="#C0C0C0"/>
<rect x="711" y="673" width="1" height="34" fill="#C0C0C0"/>
<rect x="719" y="673" width="1" height="30" fill="#C0C0C0"/>
<rect x="727" y="673" width="1" height="26" fill="#C0C0C0"/>
<rect x="735" y="673" width="1" height="20" fill="#C0C0C0"/>
<rect x="743" y="673" width="1" height="15" fill="#C0C0C0"/>
<rect x="751" y="673" width="1" height="12" fill="#C0C0C0"/>
<rect x="759" y="673" width="1" height="12" fill="#C0C0C0"/>
<rect x="767" y="673" width="1" height="14" fill="#C0C0C0"/>
<rect x="775" y="673" width="1" height="15" fill="#C0C0C0"/>
<rect x="783" y="673" width="1" height="16" fill="#C0C0C0"/>
<rect x="791" y="673" width="1" height="14" fill="#C0C0C0"/>
<rect x="799" y="673" width="1" height="10" fill="#C0C0C0"/>
<rect x="807" y="673" width="1" height="6" fill="#C0C0C0"/>
<rect x="815" y="673" width="1" height="5" fill="#C0C0C0"/>
<rect x="823" y="673" width="1" height="6" fill="#C0C0C0"/>
<rect x="831" y="673" width="1" height="5" fill="#C0C0C0"/>
<rect x="847" y="671" width="1" height="3" fill="#C0C0C0"/>
<rect x="855" y="669" width="1" height="5" fill="#C0C0C0"/>
<rect x="863" y="665" width="1" height="9" fill="#C0C0C0"/>
<rect x="871" y="662" width="1" height="12" fill="#C0C0C0"/>
<rect x="879" y="654" width="1" height="20" fill="#C0C0C0"/>
<rect x="887" y="647" width="1" height="27" fill="#C0C0C0"/>
<rect x="895" y="642" width="1" height="32" fill="#C0C0C0"/>
<rect x="903" y="639" width="1" height="35" fill="#C0C0C0"/>
<rect x="911" y="637" width="1" height="37" fill="#C0C0C0"/>
<rect x="919" y="634" width="1" height="40" fill="#C0C0C0"/>
<rect x="927" y="626" width="1" height="48" fill="#C0C0C0"/>
<rect x="935" y="617" width="1" height="57" fill="#C0C0C0"/>
<rect x="943" y="609" width="1" height="65" fill="#C0C0C0"/>
<rect x="951" y="603" width="1" height="71" fill="#C0C0C0"/>
<rect x="959" y="597" width="1" height="77" fill="#C0C0C0"/>
<rect x="967" y="594" width="1" height="80" fill="#C0C0C0"/>
<rect x="975" y="593" width="1" height="81" fill="#C0C0C0"/>
<rect x="983" y="593" width="1" height="81" fill="#C0C0C0"/>
<rect x="991" y="595" width="1" height="79" fill="#C0C0C0"/>
<rect x="999" y="598" width="1" height="76" fill="#C0C0C0"/>
<rect x="1007" y="604" width="1" height="70" fill="#C0C0C0"/>
<rect x="1015" y="610" width="1" height="64" fill="#C0C0C0"/>
<rect x="1023" y="614" width="1" height="60" fill="#C0C0C0"/>
<rect x="1031" y="620" width="1" height="54" fill="#C0C0C0"/>
<rect x="1039" y="624" width="1" height="50" fill="#C0C0C0"/>
<rect x="1047" y="627" width="1" height="47" fill="#C0C0C0"/>
<rect x="1055" y="631" width="1" height="43" fill="#C0C0C0"/>
<rect x="1063" y="634" width="1" height="40" fill="#C0C0C0"/>
<rect x="1071" y="644" width="1" height="30" fill="#C0C0C0"/>
<rect x="1079" y="650" width="1" height="24" fill="#C0C0C0"/>
<rect x="1087" y="656" width="1" height="18" fill="#C0C0C0"/>
<rect x="1095" y="660" width="1" height="14" fill="#C0C0C0"/>
<rect x="1103" y="662" width="1" height="12" fill="#C0C0C0"/>
<rect x="1111" y="662" width="1" height="12" fill="#C0C0C0"/>
<rect x="1119" y="662" width="1" height="12" fill="#C0C0C0"/>
<rect x="1127" y="657" width="1" height="17" fill="#C0C0C0"/>
<rect x="1135" y="652" width="1" height="22" fill="#C0C0C0"/>
<rect x="1143" y="649" width="1" height="25" fill="#C0C0C0"/>
<rect x="1151" y="649" width="1" height="25" fill="#C0C0C0"/>
<rect x="1159" y="651" width="1" height="23" fill="#C0C0C0"/>
<rect x="1167" y="657" width="1" height="17" fill="#C0C0C0"/>
<rect x="1175" y="662" width="1" height="12" fill="#C0C0C0"/>
<rect x="1183" y="665" width="1" height="9" fill="#C0C0C0"/>
<rect x="1191" y="666" width="1" height="8" fill="#C0C0C0"/>
<rect x="1199" y="665" width="1" height="9" fill="#C0C0C0"/>
<rect x="1207" y="663" width="1" height="11" fill="#C0C0C0"/>
<rect x="1215" y="663" width="1" height="11" fill="#C0C0C0"/>
<rect x="1223" y="666" width="1" height="8" fill="#C0C0C0"/>
<rect x="1231" y="668" width="1" height="6" fill="#C0C0C0"/>
<rect x="1239" y="672" width="1" height="2" fill="#C0C0C0"/>
<rect x="1255" y="673" width="1" height="5" fill="#C0C0C0"/>
<rect x="1263" y="673" width="1" height="5" fill="#C0C0C0"/>
<rect x="1279" y="670" width="1" height="4" fill="#C0C0C0"/>
<rect x="1287" y="669" width="1" height="5" fill="#C0C0C0"/>
<rect x="1295" y="669" width="1" height="5" fill="#C0C0C0"/>
<rect x="1303" y="668" width="1" height="6" fill="#C0C0C0"/>
<rect x="1311" y="667" width="1" height="7" fill="#C0C0C0"/>
<rect x="1319" y="670" width="1" height="4" fill="#C0C0C0"/>
<rect x="1327" y="671" width="1" height="3" fill="#C0C0C0"/>
<rect x="1335" y="672" width="1" height="2" fill="#C0C0C0"/>
<rect x="1343" y="672" width="1" height="2" fill="#C0C0C0"/>
<rect x="1351" y="673" width="1" height="4" fill="#C0C0C0"/>
<rect x="1359" y="673" width="1" height="8" fill="#C0C0C0"/>
<rect x="1367" y="673" width="1" height="16" fill="#C0C0C0"/>
<rect x="1375" y="673" width="1" height="24" fill="#C0C0C0"/>
<rect x="1383" y="673" width="1" height="30" fill="#C0C0C0"/>
</g>
<path d="M1008 597h3v1h-3zM1002 598h3v1h-3zM1014 598h3v1h-3zM1020 599h3v1h-3zM996 600h2v1h-2zM1026 600h3v1h-3zM1032 602h2v1h-2zM990 603h2v1h-2zM1038 605h3v1h-3zM984 606h2v1h-2zM1044 607h2v1h-2zM978 609h2v1h-2zM1050 610h2v1h-2zM973 612h2v1h-2zM1056 613h2v1h-2zM1062 616h2v1h-2zM1069 620h2v1h-2zM960 621h2v1h-2zM1080 628h2v1h-2zM949 629h2v1h-2zM1093 636h2v1h-2zM937 638h2v1h-2zM1099 640h2v1h-2zM931 642h2v1h-2zM1105 643h2v1h-2zM1110 645h2v1h-2zM925 646h2v1h-2zM1116 648h2v1h-2zM918 650h2v1h-2zM1122 651h2v1h-2zM912 653h2v1h-2zM1129 654h2v1h-2zM1134 655h3v1h-3zM1158 655h3v1h-3zM1164 655h3v1h-3zM1170 655h3v1h-3zM1176 655h3v1h-3zM1182 655h3v1h-3zM1188 655h3v1h-3zM906 656h2v1h-2zM1140 656h3v1h-3zM1146 656h3v1h-3zM1152 656h3v1h-3zM1195 656h2v1h-2zM1200 656h3v1h-3zM588 657h3v1h-3zM594 657h3v1h-3zM1206 657h3v1h-3zM582 658h3v1h-3zM601 658h2v1h-2zM1212 658h3v1h-3zM606 659h3v1h-3zM900 659h2v1h-2zM1218 659h3v1h-3zM577 660h2v1h-2zM612 661h2v1h-2zM1225 661h2v1h-2zM894 662h2v1h-2zM1230 662h3v1h-3zM570 663h2v1h-2zM889 664h2v1h-2zM1237 664h2v1h-2zM180 665h3v1h-3zM619 665h2v1h-2zM1242 665h3v1h-3zM174 666h3v1h-3zM186 666h3v1h-3zM564 666h2v1h-2zM169 667h2v1h-2zM882 667h2v1h-2zM1249 667h2v1h-2zM193 668h2v1h-2zM1254 668h3v1h-3zM163 669h2v1h-2zM558 669h2v1h-2zM1260 669h3v1h-3zM198 670h2v1h-2zM876 670h2v1h-2zM1267 670h2v1h-2zM1272 670h3v1h-3zM1302 670h3v1h-3zM1308 670h3v1h-3zM1314 670h3v1h-3zM1320 670h3v1h-3zM1326 670h3v1h-3zM1332 670h3v1h-3zM1338 670h3v1h-3zM1344 670h3v1h-3zM1350 670h3v1h-3zM553 671h2v1h-2zM1278 671h3v1h-3zM1284 671h3v1h-3zM1290 671h3v1h-3zM1296 671h3v1h-3zM1356 671h3v1h-3zM156 672h2v1h-2zM870 672h3v1h-3zM1362 672h3v1h-3zM204 673h2v1h-2zM151 674h2v1h-2zM546 674h2v1h-2zM865 674h2v1h-2zM1368 674h2v1h-2zM541 676h2v1h-2zM859 676h2v1h-2zM211 677h2v1h-2zM1374 677h3v1h-3zM145 678h2v1h-2zM534 678h3v1h-3zM853 678h2v1h-2zM529 680h2v1h-2zM846 680h3v1h-3zM217 681h2v1h-2zM840 681h3v1h-3zM834 682h3v1h-3zM522 683h2v1h-2zM822 683h3v1h-3zM828 683h3v1h-3zM811 684h2v1h-2zM816 684h3v1h-3zM643 685h2v1h-2zM805 685h2v1h-2zM516 686h2v1h-2zM798 687h3v1h-3zM792 688h3v1h-3zM786 689h3v1h-3zM229 690h2v1h-2zM781 690h2v1h-2zM774 692h3v1h-3zM126 693h2v1h-2zM504 693h2v1h-2zM769 693h2v1h-2zM763 695h2v1h-2zM120 696h2v1h-2zM499 696h2v1h-2zM240 698h2v1h-2zM756 698h2v1h-2zM114 699h2v1h-2zM493 700h2v1h-2zM750 700h3v1h-3zM661 701h2v1h-2zM0 702h2v1h-2zM108 702h2v1h-2zM745 702h2v1h-2zM6 704h3v1h-3zM666 704h2v1h-2zM739 704h2v1h-2zM102 705h2v1h-2zM12 706h2v1h-2zM253 706h2v1h-2zM733 706h2v1h-2zM97 707h2v1h-2zM673 707h2v1h-2zM480 708h2v1h-2zM678 708h3v1h-3zM726 708h3v1h-3zM19 709h2v1h-2zM91 709h2v1h-2zM258 709h2v1h-2zM721 709h2v1h-2zM684 710h2v1h-2zM715 710h2v1h-2zM25 711h2v1h-2zM85 711h2v1h-2zM708 711h3v1h-3zM264 712h2v1h-2zM691 712h2v1h-2zM696 712h3v1h-3zM702 712h3v1h-3zM30 713h3v1h-3zM78 713h3v1h-3zM36 715h2v1h-2zM73 715h2v1h-2zM67 716h2v1h-2zM43 717h2v1h-2zM48 717h3v1h-3zM60 717h3v1h-3zM54 718h3v1h-3zM276 719h2v1h-2zM283 723h2v1h-2zM288 726h2v1h-2zM457 726h2v1h-2zM294 729h2v1h-2zM450 730h2v1h-2zM300 732h2v1h-2zM372 733h3v1h-3zM378 733h3v1h-3zM384 733h3v1h-3zM390 733h3v1h-3zM444 733h2v1h-2zM366 734h3v1h-3zM396 734h3v1h-3zM307 735h2v1h-2zM355 735h2v1h-2zM360 735h3v1h-3zM403 735h2v1h-2zM408 735h3v1h-3zM438 735h3v1h-3zM348 736h3v1h-3zM414 736h3v1h-3zM420 736h3v1h-3zM426 736h3v1h-3zM432 736h3v1h-3zM313 737h2v1h-2zM342 737h3v1h-3zM318 738h3v1h-3zM331 738h2v1h-2zM336 738h3v1h-3zM324 739h3v1h-3zM2 703h1v1h-1zM14 707h1v1h-1zM18 708h1v1h-1zM24 710h1v1h-1zM38 716h1v1h-1zM42 716h1v1h-1zM66 717h1v1h-1zM72 716h1v1h-1zM84 712h1v1h-1zM90 710h1v1h-1zM96 708h1v1h-1zM104 704h1v1h-1zM110 701h1v1h-1zM116 698h1v1h-1zM122 695h1v1h-1zM128 692h1v1h-1zM132 689h1v1h-1zM133 688h1v1h-1zM134 687h1v1h-1zM138 684h1v1h-1zM139 683h1v1h-1zM140 682h1v1h-1zM144 679h1v1h-1zM150 675h1v1h-1zM158 671h1v1h-1zM162 670h1v1h-1zM168 668h1v1h-1zM192 667h1v1h-1zM200 671h1v1h-1zM206 674h1v1h-1zM210 676h1v1h-1zM216 680h1v1h-1zM222 684h1v1h-1zM223 685h1v1h-1zM224 686h1v1h-1zM228 689h1v1h-1zM234 693h1v1h-1zM235 694h1v1h-1zM236 695h1v1h-1zM242 699h1v1h-1zM246 701h1v1h-1zM247 702h1v1h-1zM248 703h1v1h-1zM252 705h1v1h-1zM260 710h1v1h-1zM266 713h1v1h-1zM270 715h1v1h-1zM271 716h1v1h-1zM272 717h1v1h-1zM278 720h1v1h-1zM282 722h1v1h-1zM290 727h1v1h-1zM296 730h1v1h-1zM302 733h1v1h-1zM306 734h1v1h-1zM312 736h1v1h-1zM330 739h1v1h-1zM354 736h1v1h-1zM402 734h1v1h-1zM446 732h1v1h-1zM452 729h1v1h-1zM456 727h1v1h-1zM462 723h1v1h-1zM463 722h1v1h-1zM464 721h1v1h-1zM468 718h1v1h-1zM469 717h1v1h-1zM470 716h1v1h-1zM474 713h1v1h-1zM475 712h1v1h-1zM476 711h1v1h-1zM482 707h1v1h-1zM486 705h1v1h-1zM487 704h1v1h-1zM488 703h1v1h-1zM492 701h1v1h-1zM498 697h1v1h-1zM506 692h1v1h-1zM510 690h1v1h-1zM511 689h1v1h-1zM512 688h1v1h-1zM518 685h1v1h-1zM524 682h1v1h-1zM528 681h1v1h-1zM540 677h1v1h-1zM548 673h1v1h-1zM552 672h1v1h-1zM560 668h1v1h-1zM566 665h1v1h-1zM572 662h1v1h-1zM576 661h1v1h-1zM600 657h1v1h-1zM614 662h1v1h-1zM618 664h1v1h-1zM624 668h1v1h-1zM625 669h1v1h-1zM626 670h1v1h-1zM630 673h1v1h-1zM631 674h1v1h-1zM632 675h1v1h-1zM636 678h1v1h-1zM637 679h1v1h-1zM638 680h1v1h-1zM642 684h1v1h-1zM648 689h1v1h-1zM649 690h1v1h-1zM650 691h1v1h-1zM654 695h1v1h-1zM655 696h1v1h-1zM656 697h1v1h-1zM660 700h1v1h-1zM668 705h1v1h-1zM672 706h1v1h-1zM686 711h1v1h-1zM690 711h1v1h-1zM714 711h1v1h-1zM720 710h1v1h-1zM732 707h1v1h-1zM738 705h1v1h-1zM744 703h1v1h-1zM758 697h1v1h-1zM762 696h1v1h-1zM768 694h1v1h-1zM780 691h1v1h-1zM804 686h1v1h-1zM810 685h1v1h-1zM852 679h1v1h-1zM858 677h1v1h-1zM864 675h1v1h-1zM878 669h1v1h-1zM884 666h1v1h-1zM888 665h1v1h-1zM896 661h1v1h-1zM902 658h1v1h-1zM908 655h1v1h-1zM914 652h1v1h-1zM920 649h1v1h-1zM924 647h1v1h-1zM930 643h1v1h-1zM936 639h1v1h-1zM942 635h1v1h-1zM943 634h1v1h-1zM944 633h1v1h-1zM948 630h1v1h-1zM954 626h1v1h-1zM955 625h1v1h-1zM956 624h1v1h-1zM962 620h1v1h-1zM966 618h1v1h-1zM967 617h1v1h-1zM968 616h1v1h-1zM972 613h1v1h-1zM980 608h1v1h-1zM986 605h1v1h-1zM992 602h1v1h-1zM998 599h1v1h-1zM1034 603h1v1h-1zM1046 608h1v1h-1zM1052 611h1v1h-1zM1058 614h1v1h-1zM1064 617h1v1h-1zM1068 619h1v1h-1zM1074 623h1v1h-1zM1075 624h1v1h-1zM1076 625h1v1h-1zM1082 629h1v1h-1zM1086 631h1v1h-1zM1087 632h1v1h-1zM1088 633h1v1h-1zM1092 635h1v1h-1zM1098 639h1v1h-1zM1104 642h1v1h-1zM1112 646h1v1h-1zM1118 649h1v1h-1zM1124 652h1v1h-1zM1128 653h1v1h-1zM1194 655h1v1h-1zM1224 660h1v1h-1zM1236 663h1v1h-1zM1248 666h1v1h-1zM1266 669h1v1h-1zM1370 675h1v1h-1z" fill="#FF0000" shape-rendering="crispEdges"/>
<g shape-rendering="crispEdges">
<line x1="0" y1="791.5" x2="1614" y2="791.5" stroke="#C0C0C0" stroke-width="1" stroke-dasharray="3,3"/>
<line x1="0" y1="842.5" x2="1614" y2="842.5" stroke="#C0C0C0" stroke-width="1" stroke-dasharray="3,3"/>
<line x1="0" y1="903.5" x2="1614" y2="903.5" stroke="#C0C0C0" stroke-width="1" stroke-dasharray="3,3"/>
</g>
<path d="M958 790h2v1h-2zM955 791h3v1h-3zM953 792h2v1h-2zM961 792h2v1h-2zM947 793h6v1h-6zM941 794h6v1h-6zM937 795h4v1h-4zM965 795h2v1h-2zM934 796h3v1h-3zM967 796h2v1h-2zM932 797h2v1h-2zM969 797h2v1h-2zM930 798h2v1h-2zM971 798h3v1h-3zM979 798h5v1h-5zM928 799h2v1h-2zM974 799h5v1h-5zM984 799h2v1h-2zM986 800h2v1h-2zM988 801h2v1h-2zM990 802h2v1h-2zM995 806h2v1h-2zM891 813h5v1h-5zM885 814h6v1h-6zM896 814h2v1h-2zM881 815h4v1h-4zM915 815h5v1h-5zM879 816h2v1h-2zM899 816h2v1h-2zM909 816h6v1h-6zM551 817h9v1h-9zM901 817h2v1h-2zM905 817h4v1h-4zM1133 817h4v1h-4zM119 818h3v1h-3zM903 818h2v1h-2zM1129 818h4v1h-4zM1137 818h2v1h-2zM122 819h2v1h-2zM133 819h3v1h-3zM1127 819h2v1h-2zM1139 819h3v1h-3zM124 820h2v1h-2zM129 820h4v1h-4zM136 820h2v1h-2zM1022 820h2v1h-2zM1142 820h2v1h-2zM126 821h3v1h-3zM563 821h2v1h-2zM1019 821h3v1h-3zM139 822h2v1h-2zM1007 822h4v1h-4zM1017 822h2v1h-2zM1145 822h2v1h-2zM141 823h2v1h-2zM536 823h2v1h-2zM1011 823h6v1h-6zM1039 823h4v1h-4zM538 824h2v1h-2zM567 824h2v1h-2zM1043 824h5v1h-5zM144 825h2v1h-2zM540 825h2v1h-2zM569 825h4v1h-4zM1048 825h2v1h-2zM1149 825h2v1h-2zM146 826h2v1h-2zM542 826h2v1h-2zM573 826h3v1h-3zM1050 826h2v1h-2zM1061 826h3v1h-3zM148 827h2v1h-2zM869 827h3v1h-3zM1052 827h2v1h-2zM1057 827h4v1h-4zM150 828h2v1h-2zM865 828h4v1h-4zM1054 828h3v1h-3zM863 829h2v1h-2zM861 830h2v1h-2zM1272 830h2v1h-2zM859 831h2v1h-2zM1205 831h3v1h-3zM461 832h2v1h-2zM1201 832h4v1h-4zM1275 832h2v1h-2zM459 833h2v1h-2zM839 833h2v1h-2zM856 833h2v1h-2zM1199 833h2v1h-2zM1209 833h2v1h-2zM1277 833h2v1h-2zM1307 833h5v1h-5zM523 834h2v1h-2zM841 834h2v1h-2zM853 834h3v1h-3zM1279 834h2v1h-2zM1302 834h5v1h-5zM456 835h2v1h-2zM843 835h3v1h-3zM849 835h4v1h-4zM1281 835h4v1h-4zM1299 835h3v1h-3zM447 836h9v1h-9zM741 836h3v1h-3zM805 836h3v1h-3zM835 836h2v1h-2zM846 836h3v1h-3zM1115 836h5v1h-5zM1213 836h2v1h-2zM1285 836h6v1h-6zM1297 836h2v1h-2zM494 837h2v1h-2zM737 837h4v1h-4zM801 837h4v1h-4zM1110 837h5v1h-5zM1291 837h6v1h-6zM491 838h3v1h-3zM496 838h2v1h-2zM517 838h3v1h-3zM735 838h2v1h-2zM799 838h2v1h-2zM809 838h2v1h-2zM1108 838h2v1h-2zM489 839h2v1h-2zM513 839h4v1h-4zM797 839h2v1h-2zM1106 839h2v1h-2zM486 840h3v1h-3zM499 840h2v1h-2zM509 840h4v1h-4zM795 840h2v1h-2zM1104 840h2v1h-2zM483 841h3v1h-3zM501 841h2v1h-2zM505 841h4v1h-4zM813 841h2v1h-2zM1102 841h2v1h-2zM481 842h2v1h-2zM503 842h2v1h-2zM792 842h2v1h-2zM1100 842h2v1h-2zM102 843h2v1h-2zM478 843h3v1h-3zM1098 843h2v1h-2zM100 844h2v1h-2zM475 844h3v1h-3zM751 844h2v1h-2zM1096 844h2v1h-2zM1349 844h2v1h-2zM64 845h2v1h-2zM98 845h2v1h-2zM473 845h2v1h-2zM753 845h4v1h-4zM1229 845h3v1h-3zM66 846h2v1h-2zM96 846h2v1h-2zM471 846h2v1h-2zM717 846h6v1h-6zM757 846h3v1h-3zM1093 846h2v1h-2zM1225 846h4v1h-4zM68 847h2v1h-2zM75 847h8v1h-8zM91 847h5v1h-5zM703 847h4v1h-4zM713 847h4v1h-4zM723 847h5v1h-5zM760 847h2v1h-2zM1080 847h2v1h-2zM1091 847h2v1h-2zM1223 847h2v1h-2zM1325 847h4v1h-4zM1345 847h2v1h-2zM70 848h5v1h-5zM83 848h8v1h-8zM437 848h2v1h-2zM707 848h6v1h-6zM1082 848h2v1h-2zM1321 848h4v1h-4zM1329 848h2v1h-2zM435 849h2v1h-2zM763 849h2v1h-2zM773 849h3v1h-3zM1084 849h2v1h-2zM1088 849h2v1h-2zM1171 849h13v1h-13zM1319 849h2v1h-2zM1331 849h3v1h-3zM1339 849h5v1h-5zM678 850h2v1h-2zM765 850h2v1h-2zM769 850h4v1h-4zM1086 850h2v1h-2zM1167 850h4v1h-4zM1334 850h5v1h-5zM110 851h2v1h-2zM432 851h2v1h-2zM675 851h3v1h-3zM767 851h2v1h-2zM39 852h4v1h-4zM427 852h5v1h-5zM673 852h2v1h-2zM1243 852h5v1h-5zM37 853h2v1h-2zM43 853h5v1h-5zM423 853h4v1h-4zM671 853h2v1h-2zM1071 853h2v1h-2zM1239 853h4v1h-4zM48 854h2v1h-2zM669 854h2v1h-2zM1249 854h2v1h-2zM50 855h2v1h-2zM171 855h6v1h-6zM667 855h2v1h-2zM33 856h2v1h-2zM52 856h2v1h-2zM166 856h5v1h-5zM177 856h4v1h-4zM23 857h4v1h-4zM54 857h2v1h-2zM164 857h2v1h-2zM181 857h4v1h-4zM664 857h2v1h-2zM1253 857h2v1h-2zM27 858h5v1h-5zM162 858h2v1h-2zM185 858h4v1h-4zM662 858h2v1h-2zM159 859h3v1h-3zM189 859h4v1h-4zM660 859h2v1h-2zM193 860h4v1h-4zM213 860h2v1h-2zM658 860h2v1h-2zM197 861h4v1h-4zM211 861h2v1h-2zM414 861h2v1h-2zM656 861h2v1h-2zM201 862h2v1h-2zM412 862h2v1h-2zM654 862h2v1h-2zM203 863h3v1h-3zM208 863h2v1h-2zM410 863h2v1h-2zM640 863h2v1h-2zM652 863h2v1h-2zM206 864h2v1h-2zM327 864h4v1h-4zM408 864h2v1h-2zM642 864h2v1h-2zM650 864h2v1h-2zM331 865h5v1h-5zM644 865h2v1h-2zM648 865h2v1h-2zM0 866h2v1h-2zM14 866h2v1h-2zM646 866h2v1h-2zM2 867h2v1h-2zM11 867h3v1h-3zM223 867h10v1h-10zM687 867h2v1h-2zM4 868h2v1h-2zM9 868h2v1h-2zM233 868h4v1h-4zM6 869h3v1h-3zM237 869h3v1h-3zM240 870h2v1h-2zM242 871h2v1h-2zM627 871h5v1h-5zM244 872h2v1h-2zM285 872h11v1h-11zM311 872h4v1h-4zM367 872h10v1h-10zM600 872h2v1h-2zM623 872h4v1h-4zM246 873h2v1h-2zM281 873h4v1h-4zM315 873h5v1h-5zM365 873h2v1h-2zM377 873h2v1h-2zM248 874h2v1h-2zM279 874h2v1h-2zM363 874h2v1h-2zM379 874h3v1h-3zM603 874h2v1h-2zM1374 874h3v1h-3zM277 875h2v1h-2zM307 875h2v1h-2zM382 875h2v1h-2zM605 875h2v1h-2zM1372 875h2v1h-2zM1377 875h4v1h-4zM251 876h2v1h-2zM275 876h2v1h-2zM299 876h2v1h-2zM359 876h3v1h-3zM384 876h2v1h-2zM1370 876h2v1h-2zM1381 876h3v1h-3zM253 877h2v1h-2zM1367 877h3v1h-3zM272 878h2v1h-2zM387 878h2v1h-2zM256 879h2v1h-2zM270 879h2v1h-2zM389 879h2v1h-2zM268 880h2v1h-2zM391 880h9v1h-9zM259 881h2v1h-2zM266 881h2v1h-2zM261 882h2v1h-2zM264 882h2v1h-2zM16 865h1v1h-1zM17 864h1v1h-1zM18 863h1v1h-1zM19 861h1v2h-1zM20 860h1v1h-1zM21 859h1v1h-1zM22 858h1v1h-1zM32 857h1v1h-1zM35 855h1v1h-1zM36 854h1v1h-1zM56 855h1v2h-1zM57 853h1v2h-1zM58 852h1v1h-1zM59 850h1v2h-1zM60 849h1v1h-1zM61 847h1v2h-1zM62 845h1v2h-1zM63 844h1v1h-1zM104 844h1v1h-1zM105 845h1v1h-1zM106 846h1v1h-1zM107 847h1v2h-1zM108 849h1v1h-1zM109 850h1v1h-1zM111 850h1v1h-1zM111 852h1v1h-1zM112 846h1v4h-1zM113 842h1v4h-1zM114 837h1v5h-1zM115 833h1v4h-1zM116 828h1v5h-1zM117 824h1v4h-1zM118 820h1v4h-1zM119 817h1v1h-1zM119 819h1v1h-1zM138 821h1v1h-1zM143 824h1v1h-1zM151 829h1v1h-1zM152 830h1v4h-1zM153 834h1v4h-1zM154 838h1v4h-1zM155 842h1v4h-1zM156 846h1v4h-1zM157 850h1v4h-1zM158 854h1v4h-1zM159 858h1v1h-1zM159 860h1v1h-1zM210 862h1v1h-1zM215 859h1v1h-1zM216 860h1v1h-1zM217 861h1v1h-1zM218 862h1v1h-1zM219 863h1v1h-1zM220 864h1v1h-1zM221 865h1v1h-1zM222 866h1v1h-1zM250 875h1v1h-1zM255 878h1v1h-1zM258 880h1v1h-1zM263 883h1v1h-1zM274 877h1v1h-1zM296 873h1v1h-1zM297 874h1v1h-1zM298 875h1v1h-1zM301 877h1v1h-1zM302 878h1v1h-1zM303 879h1v1h-1zM304 878h1v1h-1zM305 877h1v1h-1zM306 876h1v1h-1zM309 874h1v1h-1zM310 873h1v1h-1zM320 872h1v1h-1zM321 871h1v1h-1zM322 870h1v1h-1zM323 868h1v2h-1zM324 867h1v1h-1zM325 866h1v1h-1zM326 865h1v1h-1zM336 863h1v2h-1zM337 861h1v2h-1zM338 859h1v2h-1zM339 857h1v2h-1zM340 855h1v2h-1zM341 853h1v2h-1zM342 851h1v2h-1zM343 850h1v1h-1zM344 851h1v1h-1zM345 852h1v1h-1zM346 853h1v1h-1zM347 854h1v1h-1zM348 855h1v1h-1zM349 856h1v1h-1zM350 857h1v1h-1zM351 858h1v2h-1zM352 860h1v2h-1zM353 862h1v2h-1zM354 864h1v3h-1zM355 867h1v2h-1zM356 869h1v3h-1zM357 872h1v2h-1zM358 874h1v2h-1zM359 877h1v1h-1zM362 875h1v1h-1zM386 877h1v1h-1zM400 878h1v2h-1zM401 876h1v2h-1zM402 874h1v2h-1zM403 872h1v2h-1zM404 870h1v2h-1zM405 868h1v2h-1zM406 866h1v2h-1zM407 865h1v1h-1zM416 860h1v1h-1zM417 859h1v1h-1zM418 858h1v1h-1zM419 857h1v1h-1zM420 856h1v1h-1zM421 855h1v1h-1zM422 854h1v1h-1zM434 850h1v1h-1zM439 847h1v1h-1zM440 845h1v2h-1zM441 844h1v1h-1zM442 843h1v1h-1zM443 841h1v2h-1zM444 840h1v1h-1zM445 839h1v1h-1zM446 837h1v2h-1zM458 834h1v1h-1zM463 831h1v1h-1zM464 832h1v2h-1zM465 834h1v2h-1zM466 836h1v2h-1zM467 838h1v2h-1zM468 840h1v2h-1zM469 842h1v2h-1zM470 844h1v2h-1zM498 839h1v1h-1zM520 837h1v1h-1zM521 836h1v1h-1zM522 835h1v1h-1zM525 833h1v1h-1zM526 832h1v1h-1zM527 831h1v1h-1zM528 830h1v1h-1zM529 829h1v1h-1zM530 828h1v1h-1zM531 826h1v2h-1zM532 825h1v1h-1zM533 824h1v1h-1zM534 823h1v1h-1zM535 822h1v1h-1zM544 825h1v1h-1zM545 824h1v1h-1zM546 823h1v1h-1zM547 821h1v2h-1zM548 820h1v1h-1zM549 819h1v1h-1zM550 818h1v1h-1zM560 818h1v1h-1zM561 819h1v1h-1zM562 820h1v1h-1zM565 822h1v1h-1zM566 823h1v1h-1zM576 827h1v1h-1zM577 828h1v1h-1zM578 829h1v1h-1zM579 830h1v1h-1zM580 831h1v1h-1zM581 832h1v1h-1zM582 833h1v1h-1zM583 834h1v2h-1zM584 836h1v4h-1zM585 840h1v3h-1zM586 843h1v4h-1zM587 847h1v3h-1zM588 850h1v4h-1zM589 854h1v3h-1zM590 857h1v4h-1zM591 861h1v2h-1zM592 863h1v1h-1zM593 864h1v1h-1zM594 865h1v1h-1zM595 866h1v2h-1zM596 868h1v1h-1zM597 869h1v1h-1zM598 870h1v1h-1zM599 871h1v1h-1zM602 873h1v1h-1zM607 876h1v1h-1zM608 874h1v2h-1zM609 873h1v1h-1zM610 871h1v2h-1zM611 870h1v1h-1zM612 868h1v2h-1zM613 867h1v1h-1zM614 865h1v2h-1zM615 864h1v1h-1zM616 865h1v1h-1zM617 866h1v1h-1zM618 867h1v1h-1zM619 868h1v1h-1zM620 869h1v1h-1zM621 870h1v1h-1zM622 871h1v1h-1zM632 870h1v1h-1zM633 869h1v1h-1zM634 868h1v1h-1zM635 866h1v2h-1zM636 865h1v1h-1zM637 864h1v1h-1zM638 863h1v1h-1zM639 862h1v1h-1zM666 856h1v1h-1zM679 851h1v1h-1zM680 852h1v2h-1zM681 854h1v2h-1zM682 856h1v2h-1zM683 858h1v3h-1zM684 861h1v2h-1zM685 863h1v2h-1zM686 865h1v2h-1zM687 868h1v1h-1zM688 866h1v1h-1zM689 865h1v1h-1zM690 864h1v1h-1zM691 862h1v2h-1zM692 861h1v1h-1zM693 860h1v1h-1zM694 858h1v2h-1zM695 857h1v1h-1zM696 856h1v1h-1zM697 854h1v2h-1zM698 853h1v1h-1zM699 852h1v1h-1zM700 851h1v1h-1zM701 849h1v2h-1zM702 848h1v1h-1zM728 846h1v1h-1zM729 845h1v1h-1zM730 844h1v1h-1zM731 842h1v2h-1zM732 841h1v1h-1zM733 840h1v1h-1zM734 839h1v1h-1zM744 837h1v1h-1zM745 838h1v1h-1zM746 839h1v1h-1zM747 840h1v1h-1zM748 841h1v1h-1zM749 842h1v1h-1zM750 843h1v1h-1zM762 848h1v1h-1zM776 850h1v1h-1zM777 851h1v1h-1zM778 852h1v1h-1zM779 853h1v1h-1zM780 854h1v1h-1zM781 855h1v1h-1zM782 856h1v1h-1zM783 857h1v1h-1zM784 855h1v2h-1zM785 853h1v2h-1zM786 851h1v2h-1zM787 850h1v1h-1zM788 848h1v2h-1zM789 846h1v2h-1zM790 844h1v2h-1zM791 843h1v1h-1zM794 841h1v1h-1zM808 837h1v1h-1zM811 839h1v1h-1zM812 840h1v1h-1zM815 842h1v1h-1zM816 843h1v1h-1zM817 844h1v1h-1zM818 845h1v1h-1zM819 846h1v1h-1zM820 847h1v1h-1zM821 848h1v1h-1zM822 849h1v1h-1zM823 850h1v1h-1zM824 849h1v1h-1zM825 847h1v2h-1zM826 846h1v1h-1zM827 845h1v1h-1zM828 844h1v1h-1zM829 842h1v2h-1zM830 841h1v1h-1zM831 840h1v1h-1zM832 839h1v1h-1zM833 838h1v1h-1zM834 837h1v1h-1zM837 835h1v1h-1zM838 834h1v1h-1zM858 832h1v1h-1zM872 825h1v2h-1zM873 824h1v1h-1zM874 823h1v1h-1zM875 821h1v2h-1zM876 820h1v1h-1zM877 819h1v1h-1zM878 817h1v2h-1zM898 815h1v1h-1zM920 813h1v2h-1zM921 811h1v2h-1zM922 809h1v2h-1zM923 807h1v2h-1zM924 805h1v2h-1zM925 803h1v2h-1zM926 801h1v2h-1zM927 800h1v1h-1zM960 791h1v1h-1zM963 793h1v1h-1zM964 794h1v1h-1zM992 803h1v1h-1zM993 804h1v1h-1zM994 805h1v1h-1zM997 807h1v1h-1zM998 808h1v1h-1zM999 809h1v1h-1zM1000 810h1v2h-1zM1001 812h1v2h-1zM1002 814h1v1h-1zM1003 815h1v2h-1zM1004 817h1v1h-1zM1005 818h1v2h-1zM1006 820h1v2h-1zM1024 821h1v2h-1zM1025 823h1v1h-1zM1026 824h1v1h-1zM1027 825h1v2h-1zM1028 827h1v1h-1zM1029 828h1v1h-1zM1030 829h1v2h-1zM1031 831h1v1h-1zM1032 830h1v1h-1zM1033 829h1v1h-1zM1034 828h1v1h-1zM1035 827h1v1h-1zM1036 826h1v1h-1zM1037 825h1v1h-1zM1038 824h1v1h-1zM1063 827h1v1h-1zM1064 828h1v4h-1zM1065 832h1v3h-1zM1066 835h1v4h-1zM1067 839h1v3h-1zM1068 842h1v4h-1zM1069 846h1v3h-1zM1070 849h1v4h-1zM1071 854h1v1h-1zM1073 852h1v1h-1zM1074 851h1v1h-1zM1075 850h1v1h-1zM1076 849h1v1h-1zM1077 848h1v1h-1zM1078 847h1v1h-1zM1079 846h1v1h-1zM1090 848h1v1h-1zM1095 845h1v1h-1zM1119 835h1v1h-1zM1120 833h1v2h-1zM1121 831h1v2h-1zM1122 829h1v2h-1zM1123 827h1v2h-1zM1124 825h1v2h-1zM1125 823h1v2h-1zM1126 821h1v2h-1zM1127 820h1v1h-1zM1144 821h1v1h-1zM1147 823h1v1h-1zM1148 824h1v1h-1zM1151 826h1v1h-1zM1152 827h1v1h-1zM1153 828h1v2h-1zM1154 830h1v1h-1zM1155 831h1v1h-1zM1156 832h1v1h-1zM1157 833h1v2h-1zM1158 835h1v1h-1zM1159 836h1v1h-1zM1160 837h1v2h-1zM1161 839h1v2h-1zM1162 841h1v2h-1zM1163 843h1v1h-1zM1164 844h1v2h-1zM1165 846h1v2h-1zM1166 848h1v2h-1zM1184 848h1v1h-1zM1185 847h1v1h-1zM1186 846h1v1h-1zM1187 845h1v1h-1zM1188 844h1v1h-1zM1189 843h1v1h-1zM1190 842h1v1h-1zM1191 841h1v1h-1zM1192 840h1v1h-1zM1193 839h1v1h-1zM1194 838h1v1h-1zM1195 837h1v1h-1zM1196 836h1v1h-1zM1197 835h1v1h-1zM1198 834h1v1h-1zM1208 832h1v1h-1zM1211 834h1v1h-1zM1212 835h1v1h-1zM1215 837h1v1h-1zM1216 838h1v1h-1zM1217 839h1v2h-1zM1218 841h1v1h-1zM1219 842h1v1h-1zM1220 843h1v1h-1zM1221 844h1v2h-1zM1222 846h1v1h-1zM1232 846h1v1h-1zM1233 847h1v1h-1zM1234 848h1v1h-1zM1235 849h1v1h-1zM1236 850h1v1h-1zM1237 851h1v1h-1zM1238 852h1v1h-1zM1248 853h1v1h-1zM1251 855h1v1h-1zM1252 856h1v1h-1zM1255 858h1v1h-1zM1256 856h1v2h-1zM1257 854h1v2h-1zM1258 852h1v2h-1zM1259 851h1v1h-1zM1260 849h1v2h-1zM1261 847h1v2h-1zM1262 845h1v2h-1zM1263 844h1v1h-1zM1264 842h1v2h-1zM1265 840h1v2h-1zM1266 838h1v2h-1zM1267 836h1v2h-1zM1268 834h1v2h-1zM1269 832h1v2h-1zM1270 830h1v2h-1zM1271 829h1v1h-1zM1274 831h1v1h-1zM1312 834h1v2h-1zM1313 836h1v2h-1zM1314 838h1v2h-1zM1315 840h1v2h-1zM1316 842h1v2h-1zM1317 844h1v2h-1zM1318 846h1v2h-1zM1319 848h1v1h-1zM1344 848h1v1h-1zM1347 846h1v1h-1zM1348 845h1v1h-1zM1351 843h1v1h-1zM1352 844h1v2h-1zM1353 846h1v2h-1zM1354 848h1v2h-1zM1355 850h1v2h-1zM1356 852h1v2h-1zM1357 854h1v2h-1zM1358 856h1v2h-1zM1359 858h1v2h-1zM1360 860h1v2h-1zM1361 862h1v3h-1zM1362 865h1v2h-1zM1363 867h1v3h-1zM1364 870h1v2h-1zM1365 872h1v3h-1zM1366 875h1v2h-1zM1367 878h1v1h-1z" fill="#1E90FF" shape-rendering="crispEdges"/>
<g shape-rendering="crispEdges">
<rect x="1615" y="50" width="2" height="1" fill="#000"/>
<rect x="1615" y="83" width="2" height="1" fill="#000"/>
<rect x="1615" y="116" width="2" height="1" fill="#000"/>
<rect x="1615" y="149" width="2" height="1" fill="#000"/>
<rect x="1615" y="182" width="2" height="1" fill="#000"/>
<rect x="1615" y="215" width="2" height="1" fill="#000"/>
<rect x="1615" y="248" width="2" height="1" fill="#000"/>
<rect x="1615" y="281" width="2" height="1" fill="#000"/>
<rect x="1615" y="314" width="2" height="1" fill="#000"/>
<rect x="1615" y="447" width="2" height="1" fill="#000"/>
<rect x="1615" y="480" width="2" height="1" fill="#000"/>
<rect x="1615" y="513" width="2" height="1" fill="#000"/>
<rect x="1615" y="546" width="2" height="1" fill="#000"/>
<rect x="1615" y="579" width="2" height="1" fill="#000"/>
</g>
<text x="1620" y="53.2" font-size="9.5" fill="#000" text-anchor="start" textLength="37.5" lengthAdjust="spacingAndGlyphs">4307.500</text>
<text x="1620" y="86.23" font-size="9.5" fill="#000" text-anchor="start" textLength="37.5" lengthAdjust="spacingAndGlyphs">4275.820</text>
<text x="1620" y="119.26" font-size="9.5" fill="#000" text-anchor="start" textLength="37.5" lengthAdjust="spacingAndGlyphs">4244.140</text>
<text x="1620" y="152.29000000000002" font-size="9.5" fill="#000" text-anchor="start" textLength="37.5" lengthAdjust="spacingAndGlyphs">4211.500</text>
<text x="1620" y="185.32" font-size="9.5" fill="#000" text-anchor="start" textLength="37.5" lengthAdjust="spacingAndGlyphs">4179.820</text>
<text x="1620" y="218.35000000000002" font-size="9.5" fill="#000" text-anchor="start" textLength="37.5" lengthAdjust="spacingAndGlyphs">4148.140</text>
<text x="1620" y="251.38" font-size="9.5" fill="#000" text-anchor="start" textLength="37.5" lengthAdjust="spacingAndGlyphs">4116.460</text>
<text x="1620" y="284.41" font-size="9.5" fill="#000" text-anchor="start" textLength="37.5" lengthAdjust="spacingAndGlyphs">4083.820</text>
<text x="1620" y="317.44" font-size="9.5" fill="#000" text-anchor="start" textLength="37.5" lengthAdjust="spacingAndGlyphs">4052.140</text>
<text x="1620" y="449.56" font-size="9.5" fill="#000" text-anchor="start" textLength="37.5" lengthAdjust="spacingAndGlyphs">3924.460</text>
<text x="1620" y="482.59" font-size="9.5" fill="#000" text-anchor="start" textLength="37.5" lengthAdjust="spacingAndGlyphs">3892.780</text>
<text x="1620" y="515.62" font-size="9.5" fill="#000" text-anchor="start" textLength="37.5" lengthAdjust="spacingAndGlyphs">3861.100</text>
<text x="1620" y="548.6500000000001" font-size="9.5" fill="#000" text-anchor="start" textLength="37.5" lengthAdjust="spacingAndGlyphs">3829.420</text>
<text x="1620" y="581.6800000000001" font-size="9.5" fill="#000" text-anchor="start" textLength="37.5" lengthAdjust="spacingAndGlyphs">3797.740</text>
<text x="1618.5" y="594.0" font-size="9.5" fill="#000" text-anchor="start" textLength="32.5" lengthAdjust="spacingAndGlyphs">64.9457</text>
<text x="1618.5" y="676.5" font-size="9.5" fill="#000" text-anchor="start" textLength="18" lengthAdjust="spacingAndGlyphs">0.00</text>
<text x="1618.5" y="749.8" font-size="9.5" fill="#000" text-anchor="start" textLength="36" lengthAdjust="spacingAndGlyphs">-58.5831</text>
<text x="1618.5" y="765.3" font-size="9.5" fill="#000" text-anchor="start" textLength="13.5" lengthAdjust="spacingAndGlyphs">100</text>
<text x="1618.5" y="794.8" font-size="9.5" fill="#000" text-anchor="start" textLength="9.5" lengthAdjust="spacingAndGlyphs">80</text>
<text x="1618.5" y="845.8" font-size="9.5" fill="#000" text-anchor="start" textLength="9.5" lengthAdjust="spacingAndGlyphs">50</text>
<text x="1618.5" y="906.8" font-size="9.5" fill="#000" text-anchor="start" textLength="9.5" lengthAdjust="spacingAndGlyphs">15</text>
<text x="1618.5" y="925.3" font-size="9.5" fill="#000" text-anchor="start" textLength="4.8" lengthAdjust="spacingAndGlyphs">0</text>
<g shape-rendering="crispEdges">
<rect x="1616" y="266" width="46" height="11" fill="#DC143C"/>
<rect x="1609" y="270" width="5" height="5" fill="#DC143C"/>
<rect x="1610" y="271" width="3" height="3" fill="#fff"/>
<rect x="1616" y="297" width="46" height="11" fill="#DC143C"/>
<rect x="1609" y="301" width="5" height="5" fill="#DC143C"/>
<rect x="1610" y="302" width="3" height="3" fill="#fff"/>
<rect x="1616" y="326" width="46" height="11" fill="#FFA500"/>
<rect x="1609" y="330" width="5" height="5" fill="#FFA500"/>
<rect x="1610" y="331" width="3" height="3" fill="#fff"/>
<rect x="1616" y="342" width="46" height="11" fill="#000000"/>
<rect x="1616" y="375" width="46" height="11" fill="#0000FF"/>
<rect x="1609" y="379" width="5" height="5" fill="#0000FF"/>
<rect x="1610" y="380" width="3" height="3" fill="#fff"/>
<rect x="1616" y="406" width="46" height="11" fill="#0000FF"/>
<rect x="1609" y="410" width="5" height="5" fill="#0000FF"/>
<rect x="1610" y="411" width="3" height="3" fill="#fff"/>
</g>
<text x="1620" y="274.6" font-size="9.5" fill="#fff" text-anchor="start" textLength="37.5" lengthAdjust="spacingAndGlyphs">4092.922</text>
<text x="1620" y="305.6" font-size="9.5" fill="#fff" text-anchor="start" textLength="37.5" lengthAdjust="spacingAndGlyphs">4063.019</text>
<text x="1620" y="334.6" font-size="9.5" fill="#fff" text-anchor="start" textLength="37.5" lengthAdjust="spacingAndGlyphs">4035.046</text>
<text x="1620" y="350.6" font-size="9.5" fill="#fff" text-anchor="start" textLength="37.5" lengthAdjust="spacingAndGlyphs">4020.050</text>
<text x="1620" y="383.6" font-size="9.5" fill="#fff" text-anchor="start" textLength="37.5" lengthAdjust="spacingAndGlyphs">3987.780</text>
<text x="1620" y="414.6" font-size="9.5" fill="#fff" text-anchor="start" textLength="37.5" lengthAdjust="spacingAndGlyphs">3957.878</text>
<g shape-rendering="crispEdges">
<rect x="55" y="930" width="1" height="3" fill="#000"/>
<rect x="119" y="930" width="1" height="3" fill="#000"/>
<rect x="183" y="930" width="1" height="3" fill="#000"/>
<rect x="247" y="930" width="1" height="3" fill="#000"/>
<rect x="311" y="930" width="1" height="3" fill="#000"/>
<rect x="375" y="930" width="1" height="3" fill="#000"/>
<rect x="439" y="930" width="1" height="3" fill="#000"/>
<rect x="503" y="930" width="1" height="3" fill="#000"/>
<rect x="567" y="930" width="1" height="3" fill="#000"/>
<rect x="631" y="930" width="1" height="3" fill="#000"/>
<rect x="695" y="930" width="1" height="3" fill="#000"/>
<rect x="759" y="930" width="1" height="3" fill="#000"/>
<rect x="823" y="930" width="1" height="3" fill="#000"/>
<rect x="887" y="930" width="1" height="3" fill="#000"/>
<rect x="951" y="930" width="1" height="3" fill="#000"/>
<rect x="1015" y="930" width="1" height="3" fill="#000"/>
<rect x="1079" y="930" width="1" height="3" fill="#000"/>
<rect x="1143" y="930" width="1" height="3" fill="#000"/>
<rect x="1207" y="930" width="1" height="3" fill="#000"/>
<rect x="1271" y="930" width="1" height="3" fill="#000"/>
<rect x="1335" y="930" width="1" height="3" fill="#000"/>
</g>
<text x="-9" y="940.9" font-size="9.35" fill="#000" text-anchor="start">2 May 2022</text>
<text x="55" y="940.9" font-size="9.35" fill="#000" text-anchor="start">3 May 08:00</text>
<text x="119" y="940.9" font-size="9.35" fill="#000" text-anchor="start">4 May 16:00</text>
<text x="183" y="940.9" font-size="9.35" fill="#000" text-anchor="start">6 May 00:00</text>
<text x="247" y="940.9" font-size="9.35" fill="#000" text-anchor="start">9 May 08:00</text>
<text x="311" y="940.9" font-size="9.35" fill="#000" text-anchor="start">10 May 16:00</text>
<text x="375" y="940.9" font-size="9.35" fill="#000" text-anchor="start">12 May 00:00</text>
<text x="439" y="940.9" font-size="9.35" fill="#000" text-anchor="start">13 May 08:00</text>
<text x="503" y="940.9" font-size="9.35" fill="#000" text-anchor="start">16 May 16:00</text>
<text x="567" y="940.9" font-size="9.35" fill="#000" text-anchor="start">18 May 00:00</text>
<text x="631" y="940.9" font-size="9.35" fill="#000" text-anchor="start">19 May 08:00</text>
<text x="695" y="940.9" font-size="9.35" fill="#000" text-anchor="start">20 May 16:00</text>
<text x="759" y="940.9" font-size="9.35" fill="#000" text-anchor="start">24 May 00:00</text>
<text x="823" y="940.9" font-size="9.35" fill="#000" text-anchor="start">25 May 08:00</text>
<text x="887" y="940.9" font-size="9.35" fill="#000" text-anchor="start">26 May 16:00</text>
<text x="951" y="940.9" font-size="9.35" fill="#000" text-anchor="start">30 May 00:00</text>
<text x="1015" y="940.9" font-size="9.35" fill="#000" text-anchor="start">31 May 08:00</text>
<text x="1079" y="940.9" font-size="9.35" fill="#000" text-anchor="start">1 Jun 16:00</text>
<text x="1143" y="940.9" font-size="9.35" fill="#000" text-anchor="start">3 Jun 00:00</text>
<text x="1207" y="940.9" font-size="9.35" fill="#000" text-anchor="start">6 Jun 08:00</text>
<text x="1271" y="940.9" font-size="9.35" fill="#000" text-anchor="start">7 Jun 16:00</text>
<text x="1335" y="940.9" font-size="9.35" fill="#000" text-anchor="start">9 Jun 00:00</text>
<text x="-3" y="596" font-size="9.5" fill="#000" text-anchor="start" textLength="136.5" lengthAdjust="spacingAndGlyphs">MACD(12,26,9) -21.4028 -5.3574</text>
<text x="-6" y="767.5" font-size="9.5" fill="#000" text-anchor="start">RSI(14) 31.2007</text>
<text x="6" y="40.2" font-size="10.3" fill="#000" text-anchor="start" textLength="212" lengthAdjust="spacingAndGlyphs">SP500-,H4&#160;&#160;4024.550 4024.550 4018.550 4020.050</text>
<polygon points="1396.5,29 1407,29 1401.7,34.5" fill="#C0C0C0"/>
<line x1="1128.0" y1="189.5" x2="1242.9" y2="274.1" stroke="#FF0000" stroke-width="3.0" stroke-linecap="round"/>
<polygon points="1251.0,280.0 1240.2,277.8 1245.7,270.4" fill="#FF0000"/>
<line x1="1250.0" y1="279.0" x2="1275.8" y2="215.3" stroke="#FF0000" stroke-width="3.0" stroke-linecap="round"/>
<polygon points="1279.5,206.0 1280.0,217.0 1271.5,213.5" fill="#FF0000"/>
<line x1="1279.0" y1="207.0" x2="1355.1" y2="265.9" stroke="#FF0000" stroke-width="3.0" stroke-linecap="round"/>
<polygon points="1363.0,272.0 1352.3,269.5 1357.9,262.2" fill="#FF0000"/>
<line x1="1362.0" y1="272.0" x2="1379.7" y2="369.7" stroke="#FF0000" stroke-width="3.0" stroke-linecap="round"/>
<polygon points="1381.5,379.5 1375.2,370.5 1384.2,368.8" fill="#FF0000"/>
<line x1="1274.0" y1="673.0" x2="1335.0" y2="673.0" stroke="#FF0000" stroke-width="3.0" stroke-linecap="round"/>
<polygon points="1345.0,673.0 1335.0,677.6 1335.0,668.4" fill="#FF0000"/>
<line x1="1343.0" y1="673.0" x2="1398.6" y2="692.7" stroke="#FF0000" stroke-width="3.0" stroke-linecap="round"/>
<polygon points="1408.0,696.0 1397.0,697.0 1400.1,688.3" fill="#FF0000"/>
<line x1="1331.0" y1="837.0" x2="1382.2" y2="878.2" stroke="#FF0000" stroke-width="3.0" stroke-linecap="round"/>
<polygon points="1390.0,884.5 1379.3,881.8 1385.1,874.6" fill="#FF0000"/>
<defs>
<linearGradient id="gb" x1="0" y1="0" x2="0" y2="1"><stop offset="0" stop-color="#5C5CF4"/><stop offset="1" stop-color="#2C2CDC"/></linearGradient>
<linearGradient id="gp" x1="0" y1="0" x2="0" y2="1"><stop offset="0" stop-color="#2E2EE0"/><stop offset="1" stop-color="#0000AA"/></linearGradient>
<linearGradient id="gs" x1="0" y1="0" x2="0" y2="1"><stop offset="0" stop-color="#F2F2F2"/><stop offset="0.5" stop-color="#DDDDDD"/><stop offset="1" stop-color="#C9C9C9"/></linearGradient>
</defs>
<g shape-rendering="crispEdges">
<rect x="0" y="47" width="214" height="59" fill="#fff"/>
<rect x="0" y="48" width="46" height="24" fill="url(#gb)"/>
<rect x="161" y="48" width="52" height="24" fill="url(#gb)"/>
<rect x="0" y="72" width="103" height="33" fill="url(#gp)"/>
<rect x="105" y="72" width="108" height="33" fill="url(#gp)"/>
<rect x="0" y="48" width="46" height="1" fill="#3434D8"/>
<rect x="161" y="48" width="52" height="1" fill="#3434D8"/>
<rect x="45" y="48" width="1" height="24" fill="#2C2CCC"/>
<rect x="161" y="48" width="1" height="24" fill="#2C2CCC"/>
<rect x="0" y="71" width="42" height="1" fill="#1C1CB4"/>
<rect x="0" y="72" width="42" height="1" fill="#6868F8"/>
<rect x="165" y="71" width="44" height="1" fill="#1C1CB4"/>
<rect x="165" y="72" width="44" height="1" fill="#6868F8"/>
<rect x="102" y="72" width="1" height="33" fill="#0808A0"/>
<rect x="212" y="72" width="1" height="33" fill="#0808A0"/>
<rect x="48" y="48" width="111" height="23" fill="#B8B8B8"/>
<rect x="49" y="49" width="109" height="21" fill="#fff"/>
<rect x="49" y="49" width="20" height="21" fill="url(#gs)"/>
<rect x="69" y="49" width="1" height="21" fill="#B4B4B4"/>
<rect x="138" y="49" width="20" height="21" fill="url(#gs)"/>
<rect x="137" y="49" width="1" height="21" fill="#B4B4B4"/>
</g>
<polygon points="56,57.5 62,57.5 59,61" fill="#4A5FB5"/>
<polygon points="144.5,60 150.5,60 147.5,56.5" fill="#4A5FB5"/>
<text x="5.5" y="63.6" font-size="12.5" fill="#fff" text-anchor="start" textLength="27" lengthAdjust="spacingAndGlyphs">SELL</text>
<text x="174.5" y="63.6" font-size="12.5" fill="#fff" text-anchor="start" textLength="23.5" lengthAdjust="spacingAndGlyphs">BUY</text>
<text x="110.5" y="62.9" font-size="12.6" fill="#000" text-anchor="start" textLength="23.4" lengthAdjust="spacingAndGlyphs">1.00</text>
<text x="10" y="100" font-size="11.5" fill="#fff" text-anchor="start" font-weight="bold" textLength="28" lengthAdjust="spacingAndGlyphs">4020</text>
<text x="120" y="100" font-size="11.5" fill="#fff" text-anchor="start" font-weight="bold" textLength="28" lengthAdjust="spacingAndGlyphs">4020</text>
<text x="42.4" y="100.2" font-size="33.5" fill="#fff" text-anchor="start" textLength="34.3" lengthAdjust="spacingAndGlyphs">03</text>
<text x="152.8" y="100.2" font-size="33.5" fill="#fff" text-anchor="start" textLength="35.3" lengthAdjust="spacingAndGlyphs">86</text>
<text x="82" y="84.2" font-size="12.5" fill="#fff" text-anchor="start" font-weight="bold">5</text>
<text x="192.5" y="84.2" font-size="12.5" fill="#fff" text-anchor="start" font-weight="bold">5</text>
<g shape-rendering="crispEdges">
<rect x="0" y="0" width="1666" height="24" fill="#F0F0F0"/>
<rect x="0" y="24" width="1666" height="1" fill="#B9B9B9"/>
<rect x="0" y="25" width="1666" height="1" fill="#6F6F6F"/>
<rect x="0" y="26" width="1666" height="1" fill="#E3E3E3"/>
<rect x="0" y="27" width="1666" height="1" fill="#fff"/>
<rect x="1665" y="26" width="1" height="917" fill="#E4E4E4"/>
<rect x="216" y="1" width="1" height="22" fill="#A0A0A0"/>
<rect x="217" y="1" width="1" height="22" fill="#fff"/>
<rect x="220" y="2" width="3" height="1" fill="#A8A8A8"/>
<rect x="220" y="4" width="3" height="1" fill="#A8A8A8"/>
<rect x="220" y="6" width="3" height="1" fill="#A8A8A8"/>
<rect x="220" y="8" width="3" height="1" fill="#A8A8A8"/>
<rect x="220" y="10" width="3" height="1" fill="#A8A8A8"/>
<rect x="220" y="12" width="3" height="1" fill="#A8A8A8"/>
<rect x="220" y="14" width="3" height="1" fill="#A8A8A8"/>
<rect x="220" y="16" width="3" height="1" fill="#A8A8A8"/>
<rect x="220" y="18" width="3" height="1" fill="#A8A8A8"/>
<rect x="220" y="20" width="3" height="1" fill="#A8A8A8"/>
<rect x="254" y="0" width="25" height="22" fill="#F9F9F9"/>
<rect x="254" y="0" width="1" height="22" fill="#A0A0A0"/>
<rect x="254" y="0" width="25" height="1" fill="#A0A0A0"/>
<rect x="278" y="0" width="1" height="22" fill="#fff"/>
<rect x="254" y="21" width="25" height="1" fill="#fff"/>
<rect x="311" y="1" width="1" height="22" fill="#A0A0A0"/>
<rect x="312" y="1" width="1" height="22" fill="#fff"/>
<rect x="401" y="1" width="1" height="22" fill="#A0A0A0"/>
<rect x="402" y="1" width="1" height="22" fill="#fff"/>
<rect x="406" y="0" width="25" height="22" fill="#F9F9F9"/>
<rect x="406" y="0" width="1" height="22" fill="#A0A0A0"/>
<rect x="406" y="0" width="25" height="1" fill="#A0A0A0"/>
<rect x="430" y="0" width="1" height="22" fill="#fff"/>
<rect x="406" y="21" width="25" height="1" fill="#fff"/>
<rect x="434" y="0" width="25" height="22" fill="#F9F9F9"/>
<rect x="434" y="0" width="1" height="22" fill="#A0A0A0"/>
<rect x="434" y="0" width="25" height="1" fill="#A0A0A0"/>
<rect x="458" y="0" width="1" height="22" fill="#fff"/>
<rect x="434" y="21" width="25" height="1" fill="#fff"/>
<rect x="463" y="1" width="1" height="22" fill="#A0A0A0"/>
<rect x="464" y="1" width="1" height="22" fill="#fff"/>
<rect x="584" y="1" width="1" height="22" fill="#A0A0A0"/>
<rect x="585" y="1" width="1" height="22" fill="#fff"/>
<rect x="588" y="2" width="3" height="1" fill="#A8A8A8"/>
<rect x="588" y="4" width="3" height="1" fill="#A8A8A8"/>
<rect x="588" y="6" width="3" height="1" fill="#A8A8A8"/>
<rect x="588" y="8" width="3" height="1" fill="#A8A8A8"/>
<rect x="588" y="10" width="3" height="1" fill="#A8A8A8"/>
<rect x="588" y="12" width="3" height="1" fill="#A8A8A8"/>
<rect x="588" y="14" width="3" height="1" fill="#A8A8A8"/>
<rect x="588" y="16" width="3" height="1" fill="#A8A8A8"/>
<rect x="588" y="18" width="3" height="1" fill="#A8A8A8"/>
<rect x="588" y="20" width="3" height="1" fill="#A8A8A8"/>
<rect x="594" y="0" width="25" height="22" fill="#F9F9F9"/>
<rect x="594" y="0" width="1" height="22" fill="#A0A0A0"/>
<rect x="594" y="0" width="25" height="1" fill="#A0A0A0"/>
<rect x="618" y="0" width="1" height="22" fill="#fff"/>
<rect x="594" y="21" width="25" height="1" fill="#fff"/>
<rect x="651" y="1" width="1" height="22" fill="#A0A0A0"/>
<rect x="652" y="1" width="1" height="22" fill="#fff"/>
<rect x="890" y="1" width="1" height="22" fill="#A0A0A0"/>
<rect x="891" y="1" width="1" height="22" fill="#fff"/>
<rect x="894" y="2" width="3" height="1" fill="#A8A8A8"/>
<rect x="894" y="4" width="3" height="1" fill="#A8A8A8"/>
<rect x="894" y="6" width="3" height="1" fill="#A8A8A8"/>
<rect x="894" y="8" width="3" height="1" fill="#A8A8A8"/>
<rect x="894" y="10" width="3" height="1" fill="#A8A8A8"/>
<rect x="894" y="12" width="3" height="1" fill="#A8A8A8"/>
<rect x="894" y="14" width="3" height="1" fill="#A8A8A8"/>
<rect x="894" y="16" width="3" height="1" fill="#A8A8A8"/>
<rect x="894" y="18" width="3" height="1" fill="#A8A8A8"/>
<rect x="894" y="20" width="3" height="1" fill="#A8A8A8"/>
<rect x="1040" y="0" width="25" height="22" fill="#F9F9F9"/>
<rect x="1040" y="0" width="1" height="22" fill="#A0A0A0"/>
<rect x="1040" y="0" width="25" height="1" fill="#A0A0A0"/>
<rect x="1064" y="0" width="1" height="22" fill="#fff"/>
<rect x="1040" y="21" width="25" height="1" fill="#fff"/>
<rect x="1151" y="1" width="1" height="22" fill="#A0A0A0"/>
<rect x="1152" y="1" width="1" height="22" fill="#fff"/>
<rect x="234" y="7" width="1" height="13" fill="#555"/>
<rect x="231" y="17" width="15" height="1" fill="#555"/>
<rect x="233" y="8" width="3" height="1" fill="#555"/>
<rect x="244" y="16" width="1" height="3" fill="#555"/>
<rect x="263" y="7" width="1" height="13" fill="#555"/>
<rect x="260" y="17" width="15" height="1" fill="#555"/>
<rect x="262" y="8" width="3" height="1" fill="#555"/>
<rect x="273" y="16" width="1" height="3" fill="#555"/>
<rect x="290" y="7" width="1" height="13" fill="#555"/>
<rect x="287" y="17" width="15" height="1" fill="#555"/>
<rect x="289" y="8" width="3" height="1" fill="#555"/>
<rect x="300" y="16" width="1" height="3" fill="#555"/>
<rect x="415" y="7" width="1" height="13" fill="#555"/>
<rect x="412" y="17" width="15" height="1" fill="#555"/>
<rect x="414" y="8" width="3" height="1" fill="#555"/>
<rect x="425" y="16" width="1" height="3" fill="#555"/>
<rect x="443" y="7" width="1" height="13" fill="#555"/>
<rect x="440" y="17" width="15" height="1" fill="#555"/>
<rect x="442" y="8" width="3" height="1" fill="#555"/>
<rect x="453" y="16" width="1" height="3" fill="#555"/>
<rect x="240" y="8" width="2" height="7" fill="#1E8E1E"/>
<rect x="238" y="13" width="2" height="1" fill="#1E8E1E"/>
<rect x="242" y="8" width="2" height="1" fill="#1E8E1E"/>
<rect x="268" y="4" width="1" height="13" fill="#1a5c1a"/>
<rect x="266" y="6" width="5" height="8" fill="#1a5c1a"/>
<rect x="267" y="7" width="3" height="6" fill="#2ECC2E"/>
<rect x="376" y="4" width="8" height="8" fill="#4C9A2A"/>
<rect x="384" y="4" width="8" height="8" fill="#2B5FC4"/>
<rect x="376" y="12" width="8" height="8" fill="#2B5FC4"/>
<rect x="384" y="12" width="8" height="8" fill="#4C9A2A"/>
<rect x="378" y="7" width="5" height="1" fill="#fff"/>
<rect x="378" y="9" width="5" height="1" fill="#fff"/>
<rect x="378" y="7" width="1" height="3" fill="#fff"/>
<rect x="382" y="7" width="1" height="3" fill="#fff"/>
<rect x="386" y="7" width="5" height="1" fill="#fff"/>
<rect x="386" y="9" width="5" height="1" fill="#fff"/>
<rect x="386" y="7" width="1" height="3" fill="#fff"/>
<rect x="390" y="7" width="1" height="3" fill="#fff"/>
<rect x="378" y="15" width="5" height="1" fill="#fff"/>
<rect x="378" y="17" width="5" height="1" fill="#fff"/>
<rect x="378" y="15" width="1" height="3" fill="#fff"/>
<rect x="382" y="15" width="1" height="3" fill="#fff"/>
<rect x="386" y="15" width="5" height="1" fill="#fff"/>
<rect x="386" y="17" width="5" height="1" fill="#fff"/>
<rect x="386" y="15" width="1" height="3" fill="#fff"/>
<rect x="390" y="15" width="1" height="3" fill="#fff"/>
<rect x="376" y="4" width="16" height="1" fill="#3b7f1f"/>
<rect x="448" y="5" width="1" height="11" fill="#2C6FB5"/>
<rect x="450" y="11" width="4" height="1" fill="#E8601C"/>
<rect x="473" y="4" width="12" height="14" fill="#9A9A9A"/>
<rect x="474" y="5" width="10" height="12" fill="#F6F6F6"/>
<rect x="482" y="4" width="3" height="3" fill="#F0F0F0"/>
<rect x="482" y="6" width="3" height="1" fill="#9A9A9A"/>
<rect x="482" y="4" width="1" height="3" fill="#9A9A9A"/>
<rect x="476" y="8" width="1" height="7" fill="#555"/>
<rect x="476" y="7" width="3" height="1" fill="#555"/>
<rect x="475" y="10" width="3" height="1" fill="#555"/>
<rect x="481" y="10" width="4" height="12" fill="#0E860E"/>
<rect x="477" y="14" width="12" height="4" fill="#0E860E"/>
<rect x="482" y="11" width="2" height="10" fill="#3fdc3f"/>
<rect x="478" y="15" width="10" height="2" fill="#3fdc3f"/>
<rect x="550" y="5" width="17" height="14" fill="#5E8EC8"/>
<rect x="551" y="8" width="15" height="10" fill="#fff"/>
<rect x="550" y="5" width="17" height="3" fill="#3C78C8"/>
<rect x="551" y="13" width="15" height="1" fill="#9DB9DD"/>
<rect x="668" y="6" width="1" height="13" fill="#555"/>
<rect x="691" y="12" width="12" height="1" fill="#555"/>
<rect x="627" y="12" width="6" height="1" fill="#555"/>
<rect x="636" y="12" width="6" height="1" fill="#555"/>
<rect x="634" y="5" width="1" height="6" fill="#555"/>
<rect x="634" y="14" width="1" height="6" fill="#555"/>
<rect x="634" y="12" width="1" height="1" fill="#555"/>
<rect x="774" y="5" width="1" height="1" fill="#555"/>
<rect x="776" y="5" width="1" height="1" fill="#555"/>
<rect x="778" y="5" width="1" height="1" fill="#555"/>
<rect x="780" y="5" width="1" height="1" fill="#555"/>
<rect x="782" y="5" width="1" height="1" fill="#555"/>
<rect x="784" y="5" width="1" height="1" fill="#555"/>
<rect x="786" y="5" width="1" height="1" fill="#555"/>
<rect x="774" y="8" width="1" height="1" fill="#555"/>
<rect x="776" y="8" width="1" height="1" fill="#555"/>
<rect x="778" y="8" width="1" height="1" fill="#555"/>
<rect x="780" y="8" width="1" height="1" fill="#555"/>
<rect x="782" y="8" width="1" height="1" fill="#555"/>
<rect x="784" y="8" width="1" height="1" fill="#555"/>
<rect x="786" y="8" width="1" height="1" fill="#555"/>
<rect x="774" y="12" width="1" height="1" fill="#555"/>
<rect x="776" y="12" width="1" height="1" fill="#555"/>
<rect x="778" y="12" width="1" height="1" fill="#555"/>
<rect x="780" y="12" width="1" height="1" fill="#555"/>
<rect x="782" y="12" width="1" height="1" fill="#555"/>
<rect x="784" y="12" width="1" height="1" fill="#555"/>
<rect x="786" y="12" width="1" height="1" fill="#555"/>
<rect x="774" y="16" width="1" height="1" fill="#555"/>
<rect x="776" y="16" width="1" height="1" fill="#555"/>
<rect x="778" y="16" width="1" height="1" fill="#555"/>
<rect x="780" y="16" width="1" height="1" fill="#555"/>
<rect x="782" y="16" width="1" height="1" fill="#555"/>
<rect x="784" y="16" width="1" height="1" fill="#555"/>
<rect x="786" y="16" width="1" height="1" fill="#555"/>
<rect x="831" y="5" width="1" height="1" fill="#555"/>
<rect x="831" y="18" width="1" height="1" fill="#555"/>
<rect x="833" y="5" width="1" height="1" fill="#555"/>
<rect x="833" y="18" width="1" height="1" fill="#555"/>
<rect x="835" y="5" width="1" height="1" fill="#555"/>
<rect x="835" y="18" width="1" height="1" fill="#555"/>
<rect x="837" y="5" width="1" height="1" fill="#555"/>
<rect x="837" y="18" width="1" height="1" fill="#555"/>
<rect x="839" y="5" width="1" height="1" fill="#555"/>
<rect x="839" y="18" width="1" height="1" fill="#555"/>
<rect x="841" y="5" width="1" height="1" fill="#555"/>
<rect x="841" y="18" width="1" height="1" fill="#555"/>
<rect x="843" y="5" width="1" height="1" fill="#555"/>
<rect x="843" y="18" width="1" height="1" fill="#555"/>
<rect x="831" y="5" width="1" height="1" fill="#555"/>
<rect x="843" y="5" width="1" height="1" fill="#555"/>
<rect x="831" y="7" width="1" height="1" fill="#555"/>
<rect x="843" y="7" width="1" height="1" fill="#555"/>
<rect x="831" y="9" width="1" height="1" fill="#555"/>
<rect x="843" y="9" width="1" height="1" fill="#555"/>
<rect x="831" y="11" width="1" height="1" fill="#555"/>
<rect x="843" y="11" width="1" height="1" fill="#555"/>
<rect x="831" y="13" width="1" height="1" fill="#555"/>
<rect x="843" y="13" width="1" height="1" fill="#555"/>
<rect x="831" y="15" width="1" height="1" fill="#555"/>
<rect x="843" y="15" width="1" height="1" fill="#555"/>
<rect x="831" y="17" width="1" height="1" fill="#555"/>
<rect x="843" y="17" width="1" height="1" fill="#555"/>
</g>
<path d="M0,10 h3 v5 h3.5 v3.5 h-3.5 v4 h-3 z" fill="#22C022" stroke="#0E7A0E" stroke-width="0.8"/>
<path d="M0,5.5 q2,0 2,3 v2 h-2 z" fill="#fff" stroke="#777" stroke-width="0.8"/>
<path d="M16.5,20 l1.6,1.6 l-1.6,1.6 l-1.6,-1.6 z" fill="none" stroke="#000" stroke-width="0.7"/>
<text x="9" y="14.9" font-size="12" fill="#000" text-anchor="start" textLength="36" lengthAdjust="spacingAndGlyphs" style="font-family:'Liberation Sans','Noto Sans CJK SC',sans-serif">新订单</text>
<text x="161.5" y="14.6" font-size="11.7" fill="#000" text-anchor="start" textLength="46.8" lengthAdjust="spacingAndGlyphs" style="font-family:'Liberation Sans','Noto Sans CJK SC',sans-serif">自动交易</text>
<defs><linearGradient id="gbk" x1="0" y1="0" x2="1" y2="1"><stop offset="0" stop-color="#FBE060"/><stop offset="0.55" stop-color="#E8B420"/><stop offset="1" stop-color="#C08808"/></linearGradient>
<linearGradient id="gcl" x1="0" y1="0" x2="0" y2="1"><stop offset="0" stop-color="#FFFFFF"/><stop offset="1" stop-color="#BCCFEC"/></linearGradient>
<linearGradient id="gyl" x1="0" y1="0" x2="0" y2="1"><stop offset="0" stop-color="#FFF08A"/><stop offset="1" stop-color="#E4A818"/></linearGradient>
<radialGradient id="ggr" cx="0" cy="0" r="1"><stop offset="0" stop-color="#2CA02C" stop-opacity="0.2"/><stop offset="1" stop-color="#2CA02C" stop-opacity="0.85"/></radialGradient>
<linearGradient id="grd" x1="0" y1="0" x2="0" y2="1"><stop offset="0" stop-color="#EE4A30"/><stop offset="1" stop-color="#CC2014"/></linearGradient></defs>
<path d="M57,14.6 L66.2,20.3 L73,13.2" fill="none" stroke="#8A5A08" stroke-width="1.6"/><path d="M57.6,14.2 L66.2,19.3 L72.4,12.8" fill="none" stroke="#F4E4A8" stroke-width="0.7"/>
<path d="M62.4,5.2 L72.8,12.2 L66.3,18.8 L57,13.4 Q60.5,10 62.4,5.2Z" fill="url(#gbk)" stroke="#A8740C" stroke-width="0.7"/>
<polygon points="87.3,5 95.5,4 98.3,5.5 90,6.6" fill="#6CB4F4"/><polygon points="87.3,5 90,6.6 90,15 87.3,13.6" fill="#9CD0FA"/><polygon points="90,6.6 98.3,5.5 98.3,14 90,15" fill="#2E86E4"/><path d="M92,8.8 L97,8.1 M92,10.6 L97,9.9" stroke="#E8F4FF" stroke-width="0.9"/>
<path d="M87.6,19.6 h10.6 a2.7,2.7 0 0 0 0.3,-5.4 a2.6,2.6 0 0 0 -3.6,-1.2 a3.3,3.3 0 0 0 -6,1.3 a2.7,2.7 0 0 0 -1.3,5.3z" fill="url(#gcl)" stroke="#5C84C4" stroke-width="0.9"/>
<circle cx="121" cy="11.8" r="7.5" fill="none" stroke="#A4B8E4" stroke-width="1.1"/><circle cx="121" cy="11.8" r="5" fill="none" stroke="#7C98DC" stroke-width="1.1"/><circle cx="121" cy="11.8" r="2.9" fill="none" stroke="#8CA4E0" stroke-width="0.8"/>
<path d="M121,11.8 L121,19.8 A8,8 0 0 0 129,11.8 Z" fill="url(#ggr)"/><path d="M121,12 V19.6" stroke="#1E9E1E" stroke-width="1.3"/><circle cx="121" cy="11.6" r="1.7" fill="#2050C8"/>
<path d="M141.3,10 L155.2,10 L151.5,19.4 L146,19.4 Z" fill="url(#gyl)" stroke="#C89A1C" stroke-width="0.6"/>
<ellipse cx="148" cy="8.7" rx="7.6" ry="2.7" fill="#4C9CD8" stroke="#2C7CB8" stroke-width="0.7"/><ellipse cx="148.2" cy="6.6" rx="3.9" ry="2.7" fill="#74B8EA"/>
<circle cx="152.1" cy="15.9" r="4.1" fill="url(#grd)"/><rect x="150.7" y="14.5" width="2.8" height="2.8" fill="#fff"/>
<path d="M289,14.5 q6,-9.5 12,-1" fill="none" stroke="#2E9A2E" stroke-width="1.3"/>
<line x1="330.5" y1="14" x2="336.0" y2="19.5" stroke="#C89A28" stroke-width="3" stroke-linecap="round"/><line x1="331.0" y1="14" x2="335.5" y2="18.5" stroke="#F0D060" stroke-width="1"/>
<circle cx="326.5" cy="10" r="5.6" fill="#D5E9FB" stroke="#3F7BCB" stroke-width="1.5"/>
<rect x="323.3" y="9.2" width="6.4" height="1.8" fill="#3F7BCB"/>
<rect x="325.6" y="6.8" width="1.8" height="6.4" fill="#3F7BCB"/>
<line x1="358" y1="14" x2="363.5" y2="19.5" stroke="#C89A28" stroke-width="3" stroke-linecap="round"/><line x1="358.5" y1="14" x2="363" y2="18.5" stroke="#F0D060" stroke-width="1"/>
<circle cx="354" cy="10" r="5.6" fill="#D5E9FB" stroke="#3F7BCB" stroke-width="1.5"/>
<rect x="350.8" y="9.2" width="6.4" height="1.8" fill="#3F7BCB"/>
<polygon points="419.5,8.3 423.8,11.5 419.5,14.7" fill="#DDF5DD" stroke="#22A022" stroke-width="1.2"/>
<polygon points="449.5,11.5 452.5,9.3 452.5,13.7" fill="#E8601C"/>
<polygon points="495,10.7 500.6,10.7 497.8,14" fill="#000"/>
<polygon points="534,10.7 539.6,10.7 536.8,14" fill="#000"/>
<polygon points="573,10.7 578.6,10.7 575.8,14" fill="#000"/>
<polygon points="879.5,10.7 885.1,10.7 882.3,14" fill="#000"/>
<circle cx="518.9" cy="12" r="7.7" fill="#2A78D8" stroke="#1A54A8" stroke-width="0.7"/><circle cx="518.9" cy="12" r="5.7" fill="#F2F6FB"/><path d="M518.7,7.4 v4.4 h3.6" fill="none" stroke="#333" stroke-width="1.1"/><g fill="#8898B0"><rect x="518.5" y="16" width="0.9" height="1.2"/><rect x="514" y="11.6" width="1.2" height="0.9"/><rect x="522.8" y="14.6" width="0.9" height="0.9"/><rect x="515.2" y="14.8" width="0.9" height="0.9"/><rect x="515.2" y="8.4" width="0.9" height="0.9"/></g>
<polyline points="552,11.6 554.5,11.4 556.5,10 558.5,9.6 560.5,10.6 562.5,10.4 564.5,9.2" fill="none" stroke="#A82810" stroke-width="1.3"/><polyline points="552.5,16.6 554.5,16.4 556.5,15.6 558.5,16.4 561,14.4 562.5,15 564.5,16.6" fill="none" stroke="#1E8A1E" stroke-width="1.2"/>
<path d="M601.5,5 L601.5,16.5 L604.3,14 L606.6,19 L608.6,18 L606.4,13.3 L610.3,13.3 Z" fill="#444"/>
<line x1="718.5" y1="18.8" x2="731" y2="6.8" stroke="#555" stroke-width="1.2"/>
<g stroke="#555" stroke-width="1" fill="none"><line x1="744.6" y1="13.6" x2="754.2" y2="6.2"/><line x1="745.2" y1="16.2" x2="758.6" y2="8.6"/><line x1="748.2" y1="18.4" x2="758.8" y2="11.4"/><line x1="748" y1="9.6" x2="747.2" y2="17.8"/><line x1="751.3" y1="8.2" x2="750.6" y2="16.3"/><line x1="754.6" y1="5.8" x2="753.9" y2="14.4"/><line x1="757.7" y1="3.8" x2="757" y2="11.6"/></g>
<text x="756" y="21" font-size="6.5" fill="#333" text-anchor="start" font-weight="bold">E</text>
<text x="784" y="21" font-size="6.5" fill="#333" text-anchor="start" font-weight="bold">F</text>
<text x="804.8" y="16.9" font-size="12.2" fill="#5A5A5A" text-anchor="start" stroke="#5A5A5A" stroke-width="0.25" textLength="7.8" lengthAdjust="spacingAndGlyphs">A</text>
<text x="833" y="16.4" font-size="11" fill="#555" text-anchor="start" font-weight="bold" textLength="7.6" lengthAdjust="spacingAndGlyphs">T</text>
<path d="M858.5,9 l2.8,-3 l2.8,3 l-2.8,2.5z" fill="#444"/><path d="M866,16 l2.8,-2.5 l2.8,2.5 l-2.8,3z" fill="#444"/><path d="M860,13 l2,2.5 l4.5,-5" fill="none" stroke="#444" stroke-width="1.3"/>
<text x="911.7" y="16.5" font-size="10" fill="#484848" text-anchor="middle" textLength="13" lengthAdjust="spacingAndGlyphs">M1</text>
<text x="940.2" y="16.5" font-size="10" fill="#484848" text-anchor="middle" textLength="13" lengthAdjust="spacingAndGlyphs">M5</text>
<text x="968.6" y="16.5" font-size="10" fill="#484848" text-anchor="middle" textLength="18" lengthAdjust="spacingAndGlyphs">M15</text>
<text x="996.6" y="16.5" font-size="10" fill="#484848" text-anchor="middle" textLength="17.7" lengthAdjust="spacingAndGlyphs">M30</text>
<text x="1024.4" y="16.5" font-size="10" fill="#484848" text-anchor="middle" textLength="12.3" lengthAdjust="spacingAndGlyphs">H1</text>
<text x="1051.5" y="16.5" font-size="10" fill="#484848" text-anchor="middle" textLength="12.8" lengthAdjust="spacingAndGlyphs">H4</text>
<text x="1080.2" y="16.5" font-size="10" fill="#484848" text-anchor="middle" textLength="12.3" lengthAdjust="spacingAndGlyphs">D1</text>
<text x="1109.2" y="16.5" font-size="10" fill="#484848" text-anchor="middle" textLength="14.2" lengthAdjust="spacingAndGlyphs">W1</text>
<text x="1136" y="16.5" font-size="10" fill="#484848" text-anchor="middle" textLength="14.5" lengthAdjust="spacingAndGlyphs">MN</text>
<line x1="1614" y1="17" x2="1619" y2="12" stroke="#3568C8" stroke-width="2.6" stroke-linecap="round"/><circle cx="1621.7" cy="9" r="3.6" fill="#F4F8FF" stroke="#3568C8" stroke-width="1.6"/>
<path d="M1639,11 h10 a2,2 0 0 1 2,2 v3 a2,2 0 0 1 -2,2 h-5 l-3,3 v-3 h-2 a2,2 0 0 1 -2,-2 v-3 a2,2 0 0 1 2,-2z" fill="#F4F4F4" stroke="#B4B4B4" stroke-width="0.9"/>
<circle cx="1652.5" cy="9.6" r="8.4" fill="#E0281C"/><circle cx="1651" cy="7" r="5" fill="#EE4A3A" opacity="0.55"/>
<text x="1652.3" y="13.8" font-size="12" fill="#fff" text-anchor="middle">1</text>
</svg>
</body></html>
